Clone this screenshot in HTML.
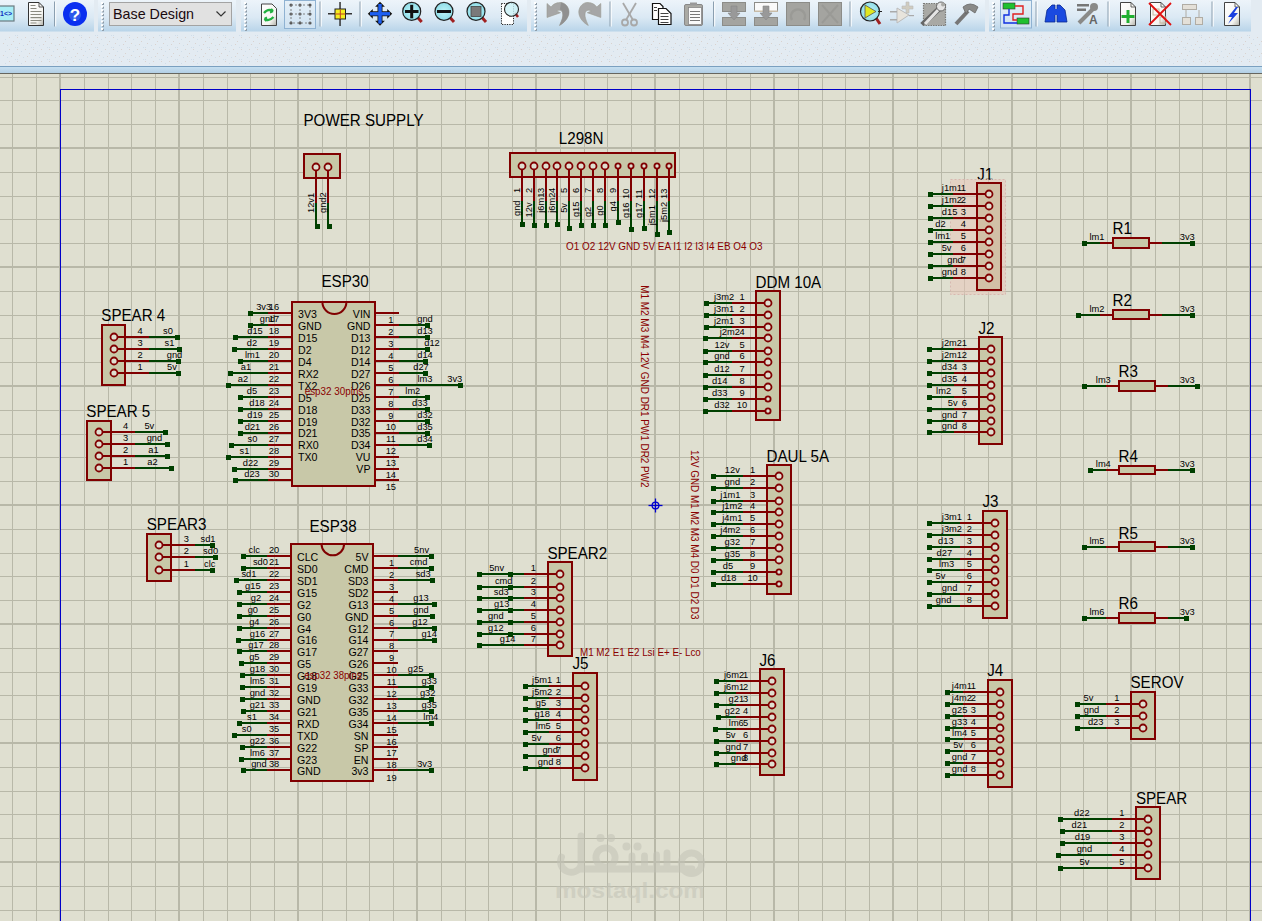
<!DOCTYPE html>
<html><head><meta charset="utf-8"><style>
html,body{margin:0;padding:0;width:1262px;height:921px;overflow:hidden;background:#dfdfd0;font-family:"Liberation Sans",sans-serif;}
#tb{position:absolute;left:0;top:0;width:1262px;height:74px;}
svg text{font-family:"Liberation Sans",sans-serif;}
</style></head><body>
<svg width="1262" height="921" style="position:absolute;left:0;top:0">
<rect x="0.00" y="74.00" width="1262.00" height="847.00" fill="#dfdfd0"/>
<rect x="0.00" y="77.00" width="1262.00" height="1.00" fill="#b8b8a8"/>
<rect x="0.00" y="100.00" width="1262.00" height="1.00" fill="#b8b8a8"/>
<rect x="0.00" y="124.00" width="1262.00" height="1.00" fill="#b8b8a8"/>
<rect x="0.00" y="147.00" width="1262.00" height="2.00" fill="#b8b8a8"/>
<rect x="0.00" y="172.00" width="1262.00" height="1.00" fill="#b8b8a8"/>
<rect x="0.00" y="196.00" width="1262.00" height="1.00" fill="#b8b8a8"/>
<rect x="0.00" y="219.00" width="1262.00" height="1.00" fill="#b8b8a8"/>
<rect x="0.00" y="243.00" width="1262.00" height="1.00" fill="#b8b8a8"/>
<rect x="0.00" y="266.00" width="1262.00" height="2.00" fill="#b8b8a8"/>
<rect x="0.00" y="291.00" width="1262.00" height="1.00" fill="#b8b8a8"/>
<rect x="0.00" y="315.00" width="1262.00" height="1.00" fill="#b8b8a8"/>
<rect x="0.00" y="338.00" width="1262.00" height="1.00" fill="#b8b8a8"/>
<rect x="0.00" y="362.00" width="1262.00" height="1.00" fill="#b8b8a8"/>
<rect x="0.00" y="385.00" width="1262.00" height="2.00" fill="#b8b8a8"/>
<rect x="0.00" y="410.00" width="1262.00" height="1.00" fill="#b8b8a8"/>
<rect x="0.00" y="434.00" width="1262.00" height="1.00" fill="#b8b8a8"/>
<rect x="0.00" y="457.00" width="1262.00" height="1.00" fill="#b8b8a8"/>
<rect x="0.00" y="481.00" width="1262.00" height="1.00" fill="#b8b8a8"/>
<rect x="0.00" y="504.00" width="1262.00" height="2.00" fill="#b8b8a8"/>
<rect x="0.00" y="529.00" width="1262.00" height="1.00" fill="#b8b8a8"/>
<rect x="0.00" y="553.00" width="1262.00" height="1.00" fill="#b8b8a8"/>
<rect x="0.00" y="576.00" width="1262.00" height="1.00" fill="#b8b8a8"/>
<rect x="0.00" y="600.00" width="1262.00" height="1.00" fill="#b8b8a8"/>
<rect x="0.00" y="623.00" width="1262.00" height="2.00" fill="#b8b8a8"/>
<rect x="0.00" y="648.00" width="1262.00" height="1.00" fill="#b8b8a8"/>
<rect x="0.00" y="672.00" width="1262.00" height="1.00" fill="#b8b8a8"/>
<rect x="0.00" y="695.00" width="1262.00" height="1.00" fill="#b8b8a8"/>
<rect x="0.00" y="719.00" width="1262.00" height="1.00" fill="#b8b8a8"/>
<rect x="0.00" y="742.00" width="1262.00" height="2.00" fill="#b8b8a8"/>
<rect x="0.00" y="767.00" width="1262.00" height="1.00" fill="#b8b8a8"/>
<rect x="0.00" y="791.00" width="1262.00" height="1.00" fill="#b8b8a8"/>
<rect x="0.00" y="814.00" width="1262.00" height="1.00" fill="#b8b8a8"/>
<rect x="0.00" y="838.00" width="1262.00" height="1.00" fill="#b8b8a8"/>
<rect x="0.00" y="861.00" width="1262.00" height="2.00" fill="#b8b8a8"/>
<rect x="0.00" y="886.00" width="1262.00" height="1.00" fill="#b8b8a8"/>
<rect x="0.00" y="910.00" width="1262.00" height="1.00" fill="#b8b8a8"/>
<rect x="12.00" y="74.00" width="1.00" height="847.00" fill="#b8b8a8"/>
<rect x="36.00" y="74.00" width="1.00" height="847.00" fill="#b8b8a8"/>
<rect x="59.00" y="74.00" width="2.00" height="847.00" fill="#b8b8a8"/>
<rect x="84.00" y="74.00" width="1.00" height="847.00" fill="#b8b8a8"/>
<rect x="108.00" y="74.00" width="1.00" height="847.00" fill="#b8b8a8"/>
<rect x="131.00" y="74.00" width="1.00" height="847.00" fill="#b8b8a8"/>
<rect x="155.00" y="74.00" width="1.00" height="847.00" fill="#b8b8a8"/>
<rect x="178.00" y="74.00" width="2.00" height="847.00" fill="#b8b8a8"/>
<rect x="203.00" y="74.00" width="1.00" height="847.00" fill="#b8b8a8"/>
<rect x="227.00" y="74.00" width="1.00" height="847.00" fill="#b8b8a8"/>
<rect x="250.00" y="74.00" width="1.00" height="847.00" fill="#b8b8a8"/>
<rect x="274.00" y="74.00" width="1.00" height="847.00" fill="#b8b8a8"/>
<rect x="297.00" y="74.00" width="2.00" height="847.00" fill="#b8b8a8"/>
<rect x="322.00" y="74.00" width="1.00" height="847.00" fill="#b8b8a8"/>
<rect x="346.00" y="74.00" width="1.00" height="847.00" fill="#b8b8a8"/>
<rect x="369.00" y="74.00" width="1.00" height="847.00" fill="#b8b8a8"/>
<rect x="393.00" y="74.00" width="1.00" height="847.00" fill="#b8b8a8"/>
<rect x="416.00" y="74.00" width="2.00" height="847.00" fill="#b8b8a8"/>
<rect x="441.00" y="74.00" width="1.00" height="847.00" fill="#b8b8a8"/>
<rect x="465.00" y="74.00" width="1.00" height="847.00" fill="#b8b8a8"/>
<rect x="488.00" y="74.00" width="1.00" height="847.00" fill="#b8b8a8"/>
<rect x="512.00" y="74.00" width="1.00" height="847.00" fill="#b8b8a8"/>
<rect x="535.00" y="74.00" width="2.00" height="847.00" fill="#b8b8a8"/>
<rect x="560.00" y="74.00" width="1.00" height="847.00" fill="#b8b8a8"/>
<rect x="584.00" y="74.00" width="1.00" height="847.00" fill="#b8b8a8"/>
<rect x="607.00" y="74.00" width="1.00" height="847.00" fill="#b8b8a8"/>
<rect x="631.00" y="74.00" width="1.00" height="847.00" fill="#b8b8a8"/>
<rect x="654.00" y="74.00" width="2.00" height="847.00" fill="#b8b8a8"/>
<rect x="679.00" y="74.00" width="1.00" height="847.00" fill="#b8b8a8"/>
<rect x="703.00" y="74.00" width="1.00" height="847.00" fill="#b8b8a8"/>
<rect x="726.00" y="74.00" width="1.00" height="847.00" fill="#b8b8a8"/>
<rect x="750.00" y="74.00" width="1.00" height="847.00" fill="#b8b8a8"/>
<rect x="773.00" y="74.00" width="2.00" height="847.00" fill="#b8b8a8"/>
<rect x="798.00" y="74.00" width="1.00" height="847.00" fill="#b8b8a8"/>
<rect x="822.00" y="74.00" width="1.00" height="847.00" fill="#b8b8a8"/>
<rect x="845.00" y="74.00" width="1.00" height="847.00" fill="#b8b8a8"/>
<rect x="869.00" y="74.00" width="1.00" height="847.00" fill="#b8b8a8"/>
<rect x="892.00" y="74.00" width="2.00" height="847.00" fill="#b8b8a8"/>
<rect x="917.00" y="74.00" width="1.00" height="847.00" fill="#b8b8a8"/>
<rect x="941.00" y="74.00" width="1.00" height="847.00" fill="#b8b8a8"/>
<rect x="964.00" y="74.00" width="1.00" height="847.00" fill="#b8b8a8"/>
<rect x="988.00" y="74.00" width="1.00" height="847.00" fill="#b8b8a8"/>
<rect x="1011.00" y="74.00" width="2.00" height="847.00" fill="#b8b8a8"/>
<rect x="1036.00" y="74.00" width="1.00" height="847.00" fill="#b8b8a8"/>
<rect x="1060.00" y="74.00" width="1.00" height="847.00" fill="#b8b8a8"/>
<rect x="1083.00" y="74.00" width="1.00" height="847.00" fill="#b8b8a8"/>
<rect x="1107.00" y="74.00" width="1.00" height="847.00" fill="#b8b8a8"/>
<rect x="1130.00" y="74.00" width="2.00" height="847.00" fill="#b8b8a8"/>
<rect x="1155.00" y="74.00" width="1.00" height="847.00" fill="#b8b8a8"/>
<rect x="1179.00" y="74.00" width="1.00" height="847.00" fill="#b8b8a8"/>
<rect x="1202.00" y="74.00" width="1.00" height="847.00" fill="#b8b8a8"/>
<rect x="1226.00" y="74.00" width="1.00" height="847.00" fill="#b8b8a8"/>
<rect x="1249.00" y="74.00" width="2.00" height="847.00" fill="#b8b8a8"/>
<g opacity="0.55"><g fill="none" stroke="#c2c2b6" stroke-width="6.8" stroke-linecap="round"><path d="M581,836 V866 A10.5,10.5 0 1 1 561.5,857"/><circle cx="605.5" cy="857.5" r="9.6"/><path d="M581,869 H692"/><path d="M632,868 V856 M644.5,868 V856 M656.5,868 V855 M667,868 V853"/><circle cx="691.5" cy="863.3" r="10.3"/></g>
<g fill="#c2c2b6"><circle cx="600.5" cy="838" r="4"/><circle cx="611" cy="838" r="4"/><circle cx="626.5" cy="846.5" r="4"/><circle cx="637.5" cy="846.5" r="4"/></g>
<text x="555" y="897.5" font-size="22" font-weight="bold" fill="#c2c2b6" text-anchor="start" textLength="150" lengthAdjust="spacingAndGlyphs">mostaql.com</text></g>
<rect x="60.00" y="89.00" width="1191.00" height="1.00" fill="#0000c8"/>
<rect x="60.00" y="89.00" width="1.00" height="900.00" fill="#0000c8"/>
<rect x="1250.00" y="89.00" width="1.00" height="900.00" fill="#0000c8"/>
<text transform="translate(303.50,126.30) scale(0.96,1)" font-size="15.8" fill="#000000" text-anchor="start">POWER SUPPLY</text>
<rect x="304" y="154" width="36" height="24" fill="#c8c8a8" stroke="#800000" stroke-width="2"/>
<rect x="315.00" y="166.00" width="2.00" height="37.00" fill="#800000"/>
<rect x="315.00" y="203.00" width="2.00" height="22.00" fill="#004000"/>
<rect x="315.00" y="224.00" width="5.00" height="5.00" fill="#004000"/>
<circle cx="316" cy="167" r="3.5" fill="#dfdfd0" stroke="#800000" stroke-width="1.8"/>
<text transform="translate(313.50,213.00) rotate(-90) scale(0.95,1)" font-size="9.8" fill="#000000" text-anchor="start">12v1</text>
<rect x="327.00" y="166.00" width="2.00" height="37.00" fill="#800000"/>
<rect x="327.00" y="203.00" width="2.00" height="22.00" fill="#004000"/>
<rect x="327.00" y="224.00" width="5.00" height="5.00" fill="#004000"/>
<circle cx="328" cy="167" r="3.5" fill="#dfdfd0" stroke="#800000" stroke-width="1.8"/>
<text transform="translate(325.50,213.00) rotate(-90) scale(0.95,1)" font-size="9.8" fill="#000000" text-anchor="start">gnd2</text>
<text transform="translate(558.80,144.10) scale(0.96,1)" font-size="15.8" fill="#000000" text-anchor="start">L298N</text>
<rect x="510" y="153" width="165" height="24" fill="#c8c8a8" stroke="#800000" stroke-width="2"/>
<rect x="521.00" y="166.00" width="2.00" height="35.00" fill="#800000"/>
<rect x="521.00" y="201.00" width="2.00" height="23.00" fill="#004000"/>
<rect x="520.00" y="222.00" width="5.00" height="5.00" fill="#004000"/>
<circle cx="522" cy="166" r="3.5" fill="#dfdfd0" stroke="#800000" stroke-width="1.8"/>
<text transform="translate(520.00,193.00) rotate(-90) scale(0.95,1)" font-size="9.8" fill="#000000" text-anchor="start">1</text>
<text transform="translate(520.00,216.00) rotate(-90) scale(0.95,1)" font-size="9.8" fill="#000000" text-anchor="start">gnd</text>
<rect x="533.00" y="166.00" width="2.00" height="35.00" fill="#800000"/>
<rect x="533.00" y="201.00" width="2.00" height="24.00" fill="#004000"/>
<rect x="532.00" y="223.00" width="5.00" height="5.00" fill="#004000"/>
<circle cx="534" cy="166" r="3.5" fill="#dfdfd0" stroke="#800000" stroke-width="1.8"/>
<text transform="translate(532.00,193.00) rotate(-90) scale(0.95,1)" font-size="9.8" fill="#000000" text-anchor="start">2</text>
<text transform="translate(532.00,217.40) rotate(-90) scale(0.95,1)" font-size="9.8" fill="#000000" text-anchor="start">12v</text>
<rect x="545.00" y="166.00" width="2.00" height="35.00" fill="#800000"/>
<rect x="545.00" y="201.00" width="2.00" height="24.00" fill="#004000"/>
<rect x="544.00" y="223.00" width="5.00" height="5.00" fill="#004000"/>
<circle cx="546" cy="166" r="3.5" fill="#dfdfd0" stroke="#800000" stroke-width="1.8"/>
<text transform="translate(544.00,193.00) rotate(-90) scale(0.95,1)" font-size="9.8" fill="#000000" text-anchor="start">3</text>
<text transform="translate(544.00,212.80) rotate(-90) scale(0.95,1)" font-size="9.8" fill="#000000" text-anchor="start">j6m1</text>
<rect x="556.00" y="166.00" width="2.00" height="35.00" fill="#800000"/>
<rect x="556.00" y="201.00" width="2.00" height="23.00" fill="#004000"/>
<rect x="555.00" y="222.00" width="5.00" height="5.00" fill="#004000"/>
<circle cx="557" cy="166" r="3.5" fill="#dfdfd0" stroke="#800000" stroke-width="1.8"/>
<text transform="translate(555.00,193.00) rotate(-90) scale(0.95,1)" font-size="9.8" fill="#000000" text-anchor="start">4</text>
<text transform="translate(555.00,212.80) rotate(-90) scale(0.95,1)" font-size="9.8" fill="#000000" text-anchor="start">j6m2</text>
<rect x="568.00" y="166.00" width="2.00" height="35.00" fill="#800000"/>
<rect x="568.00" y="201.00" width="2.00" height="27.00" fill="#004000"/>
<rect x="567.00" y="226.00" width="5.00" height="5.00" fill="#004000"/>
<circle cx="569" cy="166" r="3.5" fill="#dfdfd0" stroke="#800000" stroke-width="1.8"/>
<text transform="translate(567.00,193.00) rotate(-90) scale(0.95,1)" font-size="9.8" fill="#000000" text-anchor="start">5</text>
<text transform="translate(567.00,212.80) rotate(-90) scale(0.95,1)" font-size="9.8" fill="#000000" text-anchor="start">5v</text>
<rect x="580.00" y="166.00" width="2.00" height="35.00" fill="#800000"/>
<rect x="580.00" y="201.00" width="2.00" height="24.00" fill="#004000"/>
<rect x="579.00" y="223.00" width="5.00" height="5.00" fill="#004000"/>
<circle cx="581" cy="166" r="3.5" fill="#dfdfd0" stroke="#800000" stroke-width="1.8"/>
<text transform="translate(579.00,193.00) rotate(-90) scale(0.95,1)" font-size="9.8" fill="#000000" text-anchor="start">6</text>
<text transform="translate(579.00,217.10) rotate(-90) scale(0.95,1)" font-size="9.8" fill="#000000" text-anchor="start">g15</text>
<rect x="592.00" y="166.00" width="2.00" height="35.00" fill="#800000"/>
<rect x="592.00" y="201.00" width="2.00" height="24.00" fill="#004000"/>
<rect x="591.00" y="223.00" width="5.00" height="5.00" fill="#004000"/>
<circle cx="593" cy="166" r="3.5" fill="#dfdfd0" stroke="#800000" stroke-width="1.8"/>
<text transform="translate(591.00,193.00) rotate(-90) scale(0.95,1)" font-size="9.8" fill="#000000" text-anchor="start">7</text>
<text transform="translate(591.00,217.10) rotate(-90) scale(0.95,1)" font-size="9.8" fill="#000000" text-anchor="start">g2</text>
<rect x="604.00" y="166.00" width="2.00" height="35.00" fill="#800000"/>
<rect x="604.00" y="201.00" width="2.00" height="24.00" fill="#004000"/>
<rect x="603.00" y="223.00" width="5.00" height="5.00" fill="#004000"/>
<circle cx="605" cy="166" r="3.5" fill="#dfdfd0" stroke="#800000" stroke-width="1.8"/>
<text transform="translate(603.00,193.00) rotate(-90) scale(0.95,1)" font-size="9.8" fill="#000000" text-anchor="start">8</text>
<text transform="translate(603.00,215.70) rotate(-90) scale(0.95,1)" font-size="9.8" fill="#000000" text-anchor="start">g0</text>
<rect x="617.00" y="166.00" width="2.00" height="35.00" fill="#800000"/>
<rect x="617.00" y="201.00" width="2.00" height="21.00" fill="#004000"/>
<rect x="616.00" y="220.00" width="5.00" height="5.00" fill="#004000"/>
<circle cx="618" cy="166" r="2.6" fill="#dfdfd0" stroke="#800000" stroke-width="1.8"/>
<text transform="translate(616.10,193.00) rotate(-90) scale(0.95,1)" font-size="9.8" fill="#000000" text-anchor="start">9</text>
<text transform="translate(616.10,211.40) rotate(-90) scale(0.95,1)" font-size="9.8" fill="#000000" text-anchor="start">g4</text>
<rect x="630.00" y="166.00" width="2.00" height="35.00" fill="#800000"/>
<rect x="630.00" y="201.00" width="2.00" height="28.00" fill="#004000"/>
<rect x="629.00" y="227.00" width="5.00" height="5.00" fill="#004000"/>
<circle cx="631" cy="166" r="2.6" fill="#dfdfd0" stroke="#800000" stroke-width="1.8"/>
<text transform="translate(629.00,199.00) rotate(-90) scale(0.95,1)" font-size="9.8" fill="#000000" text-anchor="start">10</text>
<text transform="translate(629.00,218.00) rotate(-90) scale(0.95,1)" font-size="9.8" fill="#000000" text-anchor="start">g16</text>
<rect x="643.00" y="166.00" width="2.00" height="35.00" fill="#800000"/>
<rect x="643.00" y="201.00" width="2.00" height="27.00" fill="#004000"/>
<rect x="642.00" y="226.00" width="5.00" height="5.00" fill="#004000"/>
<circle cx="644" cy="166" r="2.6" fill="#dfdfd0" stroke="#800000" stroke-width="1.8"/>
<text transform="translate(641.90,199.00) rotate(-90) scale(0.95,1)" font-size="9.8" fill="#000000" text-anchor="start">11</text>
<text transform="translate(641.90,218.00) rotate(-90) scale(0.95,1)" font-size="9.8" fill="#000000" text-anchor="start">g17</text>
<rect x="656.00" y="166.00" width="2.00" height="35.00" fill="#800000"/>
<rect x="656.00" y="201.00" width="2.00" height="33.00" fill="#004000"/>
<rect x="655.00" y="232.00" width="5.00" height="5.00" fill="#004000"/>
<circle cx="657" cy="166" r="2.6" fill="#dfdfd0" stroke="#800000" stroke-width="1.8"/>
<text transform="translate(655.20,199.00) rotate(-90) scale(0.95,1)" font-size="9.8" fill="#000000" text-anchor="start">12</text>
<text transform="translate(655.20,225.30) rotate(-90) scale(0.95,1)" font-size="9.8" fill="#000000" text-anchor="start">j5m1</text>
<rect x="668.00" y="166.00" width="2.00" height="35.00" fill="#800000"/>
<rect x="668.00" y="201.00" width="2.00" height="31.00" fill="#004000"/>
<rect x="667.00" y="230.00" width="5.00" height="5.00" fill="#004000"/>
<circle cx="669" cy="166" r="2.6" fill="#dfdfd0" stroke="#800000" stroke-width="1.8"/>
<text transform="translate(667.40,199.00) rotate(-90) scale(0.95,1)" font-size="9.8" fill="#000000" text-anchor="start">13</text>
<text transform="translate(667.40,222.10) rotate(-90) scale(0.95,1)" font-size="9.8" fill="#000000" text-anchor="start">j5m2</text>
<text transform="translate(566.00,249.80)" font-size="10" fill="#8a0000" text-anchor="start" textLength="196.4" lengthAdjust="spacingAndGlyphs">O1 O2 12V GND 5V EA I1 I2 I3 I4 EB O4 O3</text>
<text transform="translate(640.50,285.30) rotate(90)" font-size="10" fill="#8a0000" text-anchor="start" textLength="202.3" lengthAdjust="spacingAndGlyphs">M1 M2 M3 M4 12V GND DR1 PW1 DR2 PW2</text>
<text transform="translate(690.50,449.90) rotate(90)" font-size="10" fill="#8a0000" text-anchor="start" textLength="169.6" lengthAdjust="spacingAndGlyphs">12V GND M1 M2 M3 M4 D0 D1 D2 D3</text>
<text transform="translate(580.00,655.50)" font-size="10" fill="#8a0000" text-anchor="start" textLength="120.8" lengthAdjust="spacingAndGlyphs">M1 M2 E1 E2 Lsi E+ E- Lco</text>
<g stroke="#0000d0" stroke-width="1.3" fill="none"><circle cx="655.5" cy="505.5" r="3.4"/><line x1="648.5" y1="505.5" x2="662.5" y2="505.5"/><line x1="655.5" y1="498.5" x2="655.5" y2="512.5"/></g>
<text transform="translate(321.50,287.30) scale(0.96,1)" font-size="15.8" fill="#000000" text-anchor="start">ESP30</text>
<rect x="292" y="302" width="83" height="184" fill="#c8c8a8" stroke="#800000" stroke-width="2"/>
<path d="M322.40,302.00 A12,12 0 0 0 346.40,302.00" fill="none" stroke="#800000" stroke-width="2"/>
<rect x="268.00" y="312.00" width="23.00" height="2.00" fill="#800000"/>
<rect x="250.00" y="312.00" width="18.00" height="2.00" fill="#004000"/>
<rect x="248.00" y="311.00" width="5.00" height="5.00" fill="#004000"/>
<text transform="translate(274.00,310.00) scale(0.95,1)" font-size="9.8" fill="#000000" text-anchor="middle">16</text>
<text transform="translate(263.70,310.00) scale(0.95,1)" font-size="9.8" fill="#000000" text-anchor="middle">3v3</text>
<text transform="translate(298.00,317.80)" font-size="10.6" fill="#000000" text-anchor="start">3V3</text>
<rect x="268.00" y="324.00" width="23.00" height="2.00" fill="#800000"/>
<rect x="250.00" y="324.00" width="18.00" height="2.00" fill="#004000"/>
<rect x="248.00" y="323.00" width="5.00" height="5.00" fill="#004000"/>
<text transform="translate(274.00,322.00) scale(0.95,1)" font-size="9.8" fill="#000000" text-anchor="middle">17</text>
<text transform="translate(267.50,322.00) scale(0.95,1)" font-size="9.8" fill="#000000" text-anchor="middle">gnd</text>
<text transform="translate(298.00,329.80)" font-size="10.6" fill="#000000" text-anchor="start">GND</text>
<rect x="268.00" y="336.00" width="23.00" height="2.00" fill="#800000"/>
<rect x="235.00" y="336.00" width="33.00" height="2.00" fill="#004000"/>
<rect x="233.00" y="335.00" width="5.00" height="5.00" fill="#004000"/>
<text transform="translate(274.00,334.00) scale(0.95,1)" font-size="9.8" fill="#000000" text-anchor="middle">18</text>
<text transform="translate(255.00,334.00) scale(0.95,1)" font-size="9.8" fill="#000000" text-anchor="middle">d15</text>
<text transform="translate(298.00,341.80)" font-size="10.6" fill="#000000" text-anchor="start">D15</text>
<rect x="268.00" y="348.00" width="23.00" height="2.00" fill="#800000"/>
<rect x="234.00" y="348.00" width="34.00" height="2.00" fill="#004000"/>
<rect x="232.00" y="347.00" width="5.00" height="5.00" fill="#004000"/>
<text transform="translate(274.00,346.00) scale(0.95,1)" font-size="9.8" fill="#000000" text-anchor="middle">19</text>
<text transform="translate(252.00,346.00) scale(0.95,1)" font-size="9.8" fill="#000000" text-anchor="middle">d2</text>
<text transform="translate(298.00,353.80)" font-size="10.6" fill="#000000" text-anchor="start">D2</text>
<rect x="268.00" y="360.00" width="23.00" height="2.00" fill="#800000"/>
<rect x="240.00" y="360.00" width="28.00" height="2.00" fill="#004000"/>
<rect x="238.00" y="359.00" width="5.00" height="5.00" fill="#004000"/>
<text transform="translate(274.00,358.00) scale(0.95,1)" font-size="9.8" fill="#000000" text-anchor="middle">20</text>
<text transform="translate(252.50,358.00) scale(0.95,1)" font-size="9.8" fill="#000000" text-anchor="middle">lm1</text>
<text transform="translate(298.00,365.80)" font-size="10.6" fill="#000000" text-anchor="start">D4</text>
<rect x="268.00" y="372.00" width="23.00" height="2.00" fill="#800000"/>
<rect x="230.00" y="372.00" width="38.00" height="2.00" fill="#004000"/>
<rect x="228.00" y="371.00" width="5.00" height="5.00" fill="#004000"/>
<text transform="translate(274.00,370.00) scale(0.95,1)" font-size="9.8" fill="#000000" text-anchor="middle">21</text>
<text transform="translate(246.00,370.00) scale(0.95,1)" font-size="9.8" fill="#000000" text-anchor="middle">a1</text>
<text transform="translate(298.00,377.80)" font-size="10.6" fill="#000000" text-anchor="start">RX2</text>
<rect x="268.00" y="384.00" width="23.00" height="2.00" fill="#800000"/>
<rect x="228.00" y="384.00" width="40.00" height="2.00" fill="#004000"/>
<rect x="226.00" y="383.00" width="5.00" height="5.00" fill="#004000"/>
<text transform="translate(274.00,382.00) scale(0.95,1)" font-size="9.8" fill="#000000" text-anchor="middle">22</text>
<text transform="translate(243.00,382.00) scale(0.95,1)" font-size="9.8" fill="#000000" text-anchor="middle">a2</text>
<text transform="translate(298.00,389.80)" font-size="10.6" fill="#000000" text-anchor="start">TX2</text>
<rect x="268.00" y="396.00" width="23.00" height="2.00" fill="#800000"/>
<rect x="240.00" y="396.00" width="28.00" height="2.00" fill="#004000"/>
<rect x="238.00" y="395.00" width="5.00" height="5.00" fill="#004000"/>
<text transform="translate(274.00,394.00) scale(0.95,1)" font-size="9.8" fill="#000000" text-anchor="middle">23</text>
<text transform="translate(252.00,394.00) scale(0.95,1)" font-size="9.8" fill="#000000" text-anchor="middle">d5</text>
<text transform="translate(298.00,401.80)" font-size="10.6" fill="#000000" text-anchor="start">D5</text>
<rect x="268.00" y="408.00" width="23.00" height="2.00" fill="#800000"/>
<rect x="240.00" y="408.00" width="28.00" height="2.00" fill="#004000"/>
<rect x="238.00" y="407.00" width="5.00" height="5.00" fill="#004000"/>
<text transform="translate(274.00,406.00) scale(0.95,1)" font-size="9.8" fill="#000000" text-anchor="middle">24</text>
<text transform="translate(257.00,406.00) scale(0.95,1)" font-size="9.8" fill="#000000" text-anchor="middle">d18</text>
<text transform="translate(298.00,413.80)" font-size="10.6" fill="#000000" text-anchor="start">D18</text>
<rect x="268.00" y="420.00" width="23.00" height="2.00" fill="#800000"/>
<rect x="240.00" y="420.00" width="28.00" height="2.00" fill="#004000"/>
<rect x="238.00" y="419.00" width="5.00" height="5.00" fill="#004000"/>
<text transform="translate(274.00,418.00) scale(0.95,1)" font-size="9.8" fill="#000000" text-anchor="middle">25</text>
<text transform="translate(255.00,418.00) scale(0.95,1)" font-size="9.8" fill="#000000" text-anchor="middle">d19</text>
<text transform="translate(298.00,425.80)" font-size="10.6" fill="#000000" text-anchor="start">D19</text>
<rect x="268.00" y="432.00" width="23.00" height="2.00" fill="#800000"/>
<rect x="240.00" y="432.00" width="28.00" height="2.00" fill="#004000"/>
<rect x="238.00" y="431.00" width="5.00" height="5.00" fill="#004000"/>
<text transform="translate(274.00,429.50) scale(0.95,1)" font-size="9.8" fill="#000000" text-anchor="middle">26</text>
<text transform="translate(252.50,429.50) scale(0.95,1)" font-size="9.8" fill="#000000" text-anchor="middle">d21</text>
<text transform="translate(298.00,437.30)" font-size="10.6" fill="#000000" text-anchor="start">D21</text>
<rect x="268.00" y="444.00" width="23.00" height="2.00" fill="#800000"/>
<rect x="231.00" y="444.00" width="37.00" height="2.00" fill="#004000"/>
<rect x="229.00" y="443.00" width="5.00" height="5.00" fill="#004000"/>
<text transform="translate(274.00,441.50) scale(0.95,1)" font-size="9.8" fill="#000000" text-anchor="middle">27</text>
<text transform="translate(252.50,441.50) scale(0.95,1)" font-size="9.8" fill="#000000" text-anchor="middle">s0</text>
<text transform="translate(298.00,449.30)" font-size="10.6" fill="#000000" text-anchor="start">RX0</text>
<rect x="268.00" y="456.00" width="23.00" height="2.00" fill="#800000"/>
<rect x="228.00" y="456.00" width="40.00" height="2.00" fill="#004000"/>
<rect x="226.00" y="455.00" width="5.00" height="5.00" fill="#004000"/>
<text transform="translate(274.00,453.50) scale(0.95,1)" font-size="9.8" fill="#000000" text-anchor="middle">28</text>
<text transform="translate(244.50,453.50) scale(0.95,1)" font-size="9.8" fill="#000000" text-anchor="middle">s1</text>
<text transform="translate(298.00,461.30)" font-size="10.6" fill="#000000" text-anchor="start">TX0</text>
<rect x="268.00" y="468.00" width="23.00" height="2.00" fill="#800000"/>
<rect x="234.00" y="468.00" width="34.00" height="2.00" fill="#004000"/>
<rect x="232.00" y="467.00" width="5.00" height="5.00" fill="#004000"/>
<text transform="translate(274.00,465.50) scale(0.95,1)" font-size="9.8" fill="#000000" text-anchor="middle">29</text>
<text transform="translate(250.50,465.50) scale(0.95,1)" font-size="9.8" fill="#000000" text-anchor="middle">d22</text>
<rect x="268.00" y="479.00" width="23.00" height="2.00" fill="#800000"/>
<rect x="235.00" y="479.00" width="33.00" height="2.00" fill="#004000"/>
<rect x="233.00" y="478.00" width="5.00" height="5.00" fill="#004000"/>
<text transform="translate(274.00,477.00) scale(0.95,1)" font-size="9.8" fill="#000000" text-anchor="middle">30</text>
<text transform="translate(252.00,477.00) scale(0.95,1)" font-size="9.8" fill="#000000" text-anchor="middle">d23</text>
<rect x="376.00" y="312.00" width="23.00" height="2.00" fill="#800000"/>
<text transform="translate(370.50,317.80)" font-size="10.6" fill="#000000" text-anchor="end">VIN</text>
<rect x="376.00" y="324.00" width="23.00" height="2.00" fill="#800000"/>
<rect x="399.00" y="324.00" width="28.00" height="2.00" fill="#004000"/>
<rect x="425.00" y="323.00" width="5.00" height="5.00" fill="#004000"/>
<text transform="translate(425.00,322.00) scale(0.95,1)" font-size="9.8" fill="#000000" text-anchor="middle">gnd</text>
<text transform="translate(370.50,329.80)" font-size="10.6" fill="#000000" text-anchor="end">GND</text>
<rect x="376.00" y="336.00" width="23.00" height="2.00" fill="#800000"/>
<rect x="399.00" y="336.00" width="28.00" height="2.00" fill="#004000"/>
<rect x="425.00" y="335.00" width="5.00" height="5.00" fill="#004000"/>
<text transform="translate(425.00,334.00) scale(0.95,1)" font-size="9.8" fill="#000000" text-anchor="middle">d13</text>
<text transform="translate(370.50,341.80)" font-size="10.6" fill="#000000" text-anchor="end">D13</text>
<rect x="376.00" y="348.00" width="23.00" height="2.00" fill="#800000"/>
<rect x="399.00" y="348.00" width="28.00" height="2.00" fill="#004000"/>
<rect x="425.00" y="347.00" width="5.00" height="5.00" fill="#004000"/>
<text transform="translate(432.00,346.00) scale(0.95,1)" font-size="9.8" fill="#000000" text-anchor="middle">d12</text>
<text transform="translate(370.50,353.80)" font-size="10.6" fill="#000000" text-anchor="end">D12</text>
<rect x="376.00" y="360.00" width="23.00" height="2.00" fill="#800000"/>
<rect x="399.00" y="360.00" width="26.00" height="2.00" fill="#004000"/>
<rect x="423.00" y="359.00" width="5.00" height="5.00" fill="#004000"/>
<text transform="translate(425.00,358.00) scale(0.95,1)" font-size="9.8" fill="#000000" text-anchor="middle">d14</text>
<text transform="translate(370.50,365.80)" font-size="10.6" fill="#000000" text-anchor="end">D14</text>
<rect x="376.00" y="372.00" width="23.00" height="2.00" fill="#800000"/>
<rect x="399.00" y="372.00" width="26.00" height="2.00" fill="#004000"/>
<rect x="423.00" y="371.00" width="5.00" height="5.00" fill="#004000"/>
<text transform="translate(421.00,370.00) scale(0.95,1)" font-size="9.8" fill="#000000" text-anchor="middle">d27</text>
<text transform="translate(370.50,377.80)" font-size="10.6" fill="#000000" text-anchor="end">D27</text>
<rect x="376.00" y="384.00" width="23.00" height="2.00" fill="#800000"/>
<rect x="399.00" y="384.00" width="61.00" height="2.00" fill="#004000"/>
<rect x="458.00" y="383.00" width="5.00" height="5.00" fill="#004000"/>
<text transform="translate(425.00,382.00) scale(0.95,1)" font-size="9.8" fill="#000000" text-anchor="middle">lm3</text>
<text transform="translate(370.50,389.80)" font-size="10.6" fill="#000000" text-anchor="end">D26</text>
<rect x="376.00" y="396.00" width="23.00" height="2.00" fill="#800000"/>
<rect x="399.00" y="396.00" width="28.00" height="2.00" fill="#004000"/>
<rect x="425.00" y="395.00" width="5.00" height="5.00" fill="#004000"/>
<text transform="translate(412.80,394.00) scale(0.95,1)" font-size="9.8" fill="#000000" text-anchor="middle">lm2</text>
<text transform="translate(370.50,401.80)" font-size="10.6" fill="#000000" text-anchor="end">D25</text>
<rect x="376.00" y="408.00" width="23.00" height="2.00" fill="#800000"/>
<rect x="399.00" y="408.00" width="28.00" height="2.00" fill="#004000"/>
<rect x="425.00" y="407.00" width="5.00" height="5.00" fill="#004000"/>
<text transform="translate(419.80,406.00) scale(0.95,1)" font-size="9.8" fill="#000000" text-anchor="middle">d33</text>
<text transform="translate(370.50,413.80)" font-size="10.6" fill="#000000" text-anchor="end">D33</text>
<rect x="376.00" y="420.00" width="23.00" height="2.00" fill="#800000"/>
<rect x="399.00" y="420.00" width="28.00" height="2.00" fill="#004000"/>
<rect x="425.00" y="419.00" width="5.00" height="5.00" fill="#004000"/>
<text transform="translate(425.00,418.00) scale(0.95,1)" font-size="9.8" fill="#000000" text-anchor="middle">d32</text>
<text transform="translate(370.50,425.80)" font-size="10.6" fill="#000000" text-anchor="end">D32</text>
<rect x="376.00" y="432.00" width="23.00" height="2.00" fill="#800000"/>
<rect x="399.00" y="432.00" width="28.00" height="2.00" fill="#004000"/>
<rect x="425.00" y="431.00" width="5.00" height="5.00" fill="#004000"/>
<text transform="translate(425.00,429.50) scale(0.95,1)" font-size="9.8" fill="#000000" text-anchor="middle">d35</text>
<text transform="translate(370.50,437.30)" font-size="10.6" fill="#000000" text-anchor="end">D35</text>
<rect x="376.00" y="444.00" width="23.00" height="2.00" fill="#800000"/>
<rect x="399.00" y="444.00" width="30.00" height="2.00" fill="#004000"/>
<rect x="427.00" y="443.00" width="5.00" height="5.00" fill="#004000"/>
<text transform="translate(425.00,441.50) scale(0.95,1)" font-size="9.8" fill="#000000" text-anchor="middle">d34</text>
<text transform="translate(370.50,449.30)" font-size="10.6" fill="#000000" text-anchor="end">D34</text>
<rect x="376.00" y="456.00" width="23.00" height="2.00" fill="#800000"/>
<text transform="translate(370.50,461.30)" font-size="10.6" fill="#000000" text-anchor="end">VU</text>
<rect x="376.00" y="468.00" width="23.00" height="2.00" fill="#800000"/>
<text transform="translate(370.50,473.30)" font-size="10.6" fill="#000000" text-anchor="end">VP</text>
<rect x="376.00" y="479.00" width="23.00" height="2.00" fill="#800000"/>
<text transform="translate(390.80,322.50) scale(0.95,1)" font-size="9.8" fill="#000000" text-anchor="middle">1</text>
<text transform="translate(390.80,334.50) scale(0.95,1)" font-size="9.8" fill="#000000" text-anchor="middle">2</text>
<text transform="translate(390.80,346.50) scale(0.95,1)" font-size="9.8" fill="#000000" text-anchor="middle">3</text>
<text transform="translate(390.80,358.50) scale(0.95,1)" font-size="9.8" fill="#000000" text-anchor="middle">4</text>
<text transform="translate(390.80,370.50) scale(0.95,1)" font-size="9.8" fill="#000000" text-anchor="middle">5</text>
<text transform="translate(390.80,382.50) scale(0.95,1)" font-size="9.8" fill="#000000" text-anchor="middle">6</text>
<text transform="translate(390.80,394.50) scale(0.95,1)" font-size="9.8" fill="#000000" text-anchor="middle">7</text>
<text transform="translate(390.80,406.50) scale(0.95,1)" font-size="9.8" fill="#000000" text-anchor="middle">8</text>
<text transform="translate(390.80,418.50) scale(0.95,1)" font-size="9.8" fill="#000000" text-anchor="middle">9</text>
<text transform="translate(390.80,430.00) scale(0.95,1)" font-size="9.8" fill="#000000" text-anchor="middle">10</text>
<text transform="translate(390.80,442.00) scale(0.95,1)" font-size="9.8" fill="#000000" text-anchor="middle">11</text>
<text transform="translate(390.80,454.00) scale(0.95,1)" font-size="9.8" fill="#000000" text-anchor="middle">12</text>
<text transform="translate(390.80,466.00) scale(0.95,1)" font-size="9.8" fill="#000000" text-anchor="middle">13</text>
<text transform="translate(390.80,477.50) scale(0.95,1)" font-size="9.8" fill="#000000" text-anchor="middle">14</text>
<text transform="translate(390.80,489.50) scale(0.95,1)" font-size="9.8" fill="#000000" text-anchor="middle">15</text>
<text transform="translate(334.00,395.00)" font-size="10" fill="#8a0000" text-anchor="middle" textLength="58.6" lengthAdjust="spacingAndGlyphs">esp32 30pins</text>
<text transform="translate(454.80,382.00) scale(0.95,1)" font-size="9.8" fill="#000000" text-anchor="middle">3v3</text>
<text transform="translate(309.50,532.30) scale(0.96,1)" font-size="15.8" fill="#000000" text-anchor="start">ESP38</text>
<rect x="291" y="544" width="82" height="237" fill="#c8c8a8" stroke="#800000" stroke-width="2"/>
<path d="M321.50,544.00 A11.3,11.3 0 0 0 344.10,544.00" fill="none" stroke="#800000" stroke-width="2"/>
<rect x="267.00" y="555.00" width="23.00" height="2.00" fill="#800000"/>
<rect x="243.00" y="555.00" width="24.00" height="2.00" fill="#004000"/>
<rect x="241.00" y="554.00" width="5.00" height="5.00" fill="#004000"/>
<text transform="translate(274.10,553.20) scale(0.95,1)" font-size="9.8" fill="#000000" text-anchor="middle">20</text>
<text transform="translate(254.30,553.20) scale(0.95,1)" font-size="9.8" fill="#000000" text-anchor="middle">clc</text>
<text transform="translate(297.00,561.00)" font-size="10.6" fill="#000000" text-anchor="start">CLC</text>
<rect x="267.00" y="567.00" width="23.00" height="2.00" fill="#800000"/>
<rect x="243.00" y="567.00" width="24.00" height="2.00" fill="#004000"/>
<rect x="241.00" y="566.00" width="5.00" height="5.00" fill="#004000"/>
<text transform="translate(274.10,565.40) scale(0.95,1)" font-size="9.8" fill="#000000" text-anchor="middle">21</text>
<text transform="translate(260.40,565.40) scale(0.95,1)" font-size="9.8" fill="#000000" text-anchor="middle">sd0</text>
<text transform="translate(297.00,573.20)" font-size="10.6" fill="#000000" text-anchor="start">SD0</text>
<rect x="267.00" y="579.00" width="23.00" height="2.00" fill="#800000"/>
<rect x="236.00" y="579.00" width="31.00" height="2.00" fill="#004000"/>
<rect x="234.00" y="578.00" width="5.00" height="5.00" fill="#004000"/>
<text transform="translate(274.10,577.30) scale(0.95,1)" font-size="9.8" fill="#000000" text-anchor="middle">22</text>
<text transform="translate(248.90,577.30) scale(0.95,1)" font-size="9.8" fill="#000000" text-anchor="middle">sd1</text>
<text transform="translate(297.00,585.10)" font-size="10.6" fill="#000000" text-anchor="start">SD1</text>
<rect x="267.00" y="591.00" width="23.00" height="2.00" fill="#800000"/>
<rect x="239.00" y="591.00" width="28.00" height="2.00" fill="#004000"/>
<rect x="237.00" y="590.00" width="5.00" height="5.00" fill="#004000"/>
<text transform="translate(274.10,589.10) scale(0.95,1)" font-size="9.8" fill="#000000" text-anchor="middle">23</text>
<text transform="translate(252.80,589.10) scale(0.95,1)" font-size="9.8" fill="#000000" text-anchor="middle">g15</text>
<text transform="translate(297.00,596.90)" font-size="10.6" fill="#000000" text-anchor="start">G15</text>
<rect x="267.00" y="603.00" width="23.00" height="2.00" fill="#800000"/>
<rect x="239.00" y="603.00" width="28.00" height="2.00" fill="#004000"/>
<rect x="237.00" y="602.00" width="5.00" height="5.00" fill="#004000"/>
<text transform="translate(274.10,601.30) scale(0.95,1)" font-size="9.8" fill="#000000" text-anchor="middle">24</text>
<text transform="translate(255.90,601.30) scale(0.95,1)" font-size="9.8" fill="#000000" text-anchor="middle">g2</text>
<text transform="translate(297.00,609.10)" font-size="10.6" fill="#000000" text-anchor="start">G2</text>
<rect x="267.00" y="615.00" width="23.00" height="2.00" fill="#800000"/>
<rect x="239.00" y="615.00" width="28.00" height="2.00" fill="#004000"/>
<rect x="237.00" y="614.00" width="5.00" height="5.00" fill="#004000"/>
<text transform="translate(274.10,613.20) scale(0.95,1)" font-size="9.8" fill="#000000" text-anchor="middle">25</text>
<text transform="translate(252.80,613.20) scale(0.95,1)" font-size="9.8" fill="#000000" text-anchor="middle">g0</text>
<text transform="translate(297.00,621.00)" font-size="10.6" fill="#000000" text-anchor="start">G0</text>
<rect x="267.00" y="627.00" width="23.00" height="2.00" fill="#800000"/>
<rect x="239.00" y="627.00" width="28.00" height="2.00" fill="#004000"/>
<rect x="237.00" y="626.00" width="5.00" height="5.00" fill="#004000"/>
<text transform="translate(274.10,625.00) scale(0.95,1)" font-size="9.8" fill="#000000" text-anchor="middle">26</text>
<text transform="translate(254.30,625.00) scale(0.95,1)" font-size="9.8" fill="#000000" text-anchor="middle">g4</text>
<text transform="translate(297.00,632.80)" font-size="10.6" fill="#000000" text-anchor="start">G4</text>
<rect x="267.00" y="639.00" width="23.00" height="2.00" fill="#800000"/>
<rect x="238.00" y="639.00" width="29.00" height="2.00" fill="#004000"/>
<rect x="236.00" y="638.00" width="5.00" height="5.00" fill="#004000"/>
<text transform="translate(274.10,636.60) scale(0.95,1)" font-size="9.8" fill="#000000" text-anchor="middle">27</text>
<text transform="translate(257.40,636.60) scale(0.95,1)" font-size="9.8" fill="#000000" text-anchor="middle">g16</text>
<text transform="translate(297.00,644.40)" font-size="10.6" fill="#000000" text-anchor="start">G16</text>
<rect x="267.00" y="650.00" width="23.00" height="2.00" fill="#800000"/>
<rect x="239.00" y="650.00" width="28.00" height="2.00" fill="#004000"/>
<rect x="237.00" y="649.00" width="5.00" height="5.00" fill="#004000"/>
<text transform="translate(274.10,648.10) scale(0.95,1)" font-size="9.8" fill="#000000" text-anchor="middle">28</text>
<text transform="translate(255.90,648.10) scale(0.95,1)" font-size="9.8" fill="#000000" text-anchor="middle">g17</text>
<text transform="translate(297.00,655.90)" font-size="10.6" fill="#000000" text-anchor="start">G17</text>
<rect x="267.00" y="662.00" width="23.00" height="2.00" fill="#800000"/>
<rect x="241.00" y="662.00" width="26.00" height="2.00" fill="#004000"/>
<rect x="239.00" y="661.00" width="5.00" height="5.00" fill="#004000"/>
<text transform="translate(274.10,660.00) scale(0.95,1)" font-size="9.8" fill="#000000" text-anchor="middle">29</text>
<text transform="translate(254.30,660.00) scale(0.95,1)" font-size="9.8" fill="#000000" text-anchor="middle">g5</text>
<text transform="translate(297.00,667.80)" font-size="10.6" fill="#000000" text-anchor="start">G5</text>
<rect x="267.00" y="674.00" width="23.00" height="2.00" fill="#800000"/>
<rect x="242.00" y="674.00" width="25.00" height="2.00" fill="#004000"/>
<rect x="240.00" y="673.00" width="5.00" height="5.00" fill="#004000"/>
<text transform="translate(274.10,672.20) scale(0.95,1)" font-size="9.8" fill="#000000" text-anchor="middle">30</text>
<text transform="translate(257.40,672.20) scale(0.95,1)" font-size="9.8" fill="#000000" text-anchor="middle">g18</text>
<text transform="translate(297.00,680.00)" font-size="10.6" fill="#000000" text-anchor="start">G18</text>
<rect x="267.00" y="686.00" width="23.00" height="2.00" fill="#800000"/>
<rect x="242.00" y="686.00" width="25.00" height="2.00" fill="#004000"/>
<rect x="240.00" y="685.00" width="5.00" height="5.00" fill="#004000"/>
<text transform="translate(274.10,684.00) scale(0.95,1)" font-size="9.8" fill="#000000" text-anchor="middle">31</text>
<text transform="translate(257.40,684.00) scale(0.95,1)" font-size="9.8" fill="#000000" text-anchor="middle">lm5</text>
<text transform="translate(297.00,691.80)" font-size="10.6" fill="#000000" text-anchor="start">G19</text>
<rect x="267.00" y="698.00" width="23.00" height="2.00" fill="#800000"/>
<rect x="242.00" y="698.00" width="25.00" height="2.00" fill="#004000"/>
<rect x="240.00" y="697.00" width="5.00" height="5.00" fill="#004000"/>
<text transform="translate(274.10,696.20) scale(0.95,1)" font-size="9.8" fill="#000000" text-anchor="middle">32</text>
<text transform="translate(257.40,696.20) scale(0.95,1)" font-size="9.8" fill="#000000" text-anchor="middle">gnd</text>
<text transform="translate(297.00,704.00)" font-size="10.6" fill="#000000" text-anchor="start">GND</text>
<rect x="267.00" y="710.00" width="23.00" height="2.00" fill="#800000"/>
<rect x="243.00" y="710.00" width="24.00" height="2.00" fill="#004000"/>
<rect x="241.00" y="709.00" width="5.00" height="5.00" fill="#004000"/>
<text transform="translate(274.10,708.00) scale(0.95,1)" font-size="9.8" fill="#000000" text-anchor="middle">33</text>
<text transform="translate(257.40,708.00) scale(0.95,1)" font-size="9.8" fill="#000000" text-anchor="middle">g21</text>
<text transform="translate(297.00,715.80)" font-size="10.6" fill="#000000" text-anchor="start">G21</text>
<rect x="267.00" y="722.00" width="23.00" height="2.00" fill="#800000"/>
<rect x="239.00" y="722.00" width="28.00" height="2.00" fill="#004000"/>
<rect x="237.00" y="721.00" width="5.00" height="5.00" fill="#004000"/>
<text transform="translate(274.10,720.00) scale(0.95,1)" font-size="9.8" fill="#000000" text-anchor="middle">34</text>
<text transform="translate(251.90,720.00) scale(0.95,1)" font-size="9.8" fill="#000000" text-anchor="middle">s1</text>
<text transform="translate(297.00,727.80)" font-size="10.6" fill="#000000" text-anchor="start">RXD</text>
<rect x="267.00" y="734.00" width="23.00" height="2.00" fill="#800000"/>
<rect x="234.00" y="734.00" width="33.00" height="2.00" fill="#004000"/>
<rect x="232.00" y="733.00" width="5.00" height="5.00" fill="#004000"/>
<text transform="translate(274.10,732.00) scale(0.95,1)" font-size="9.8" fill="#000000" text-anchor="middle">35</text>
<text transform="translate(246.70,732.00) scale(0.95,1)" font-size="9.8" fill="#000000" text-anchor="middle">s0</text>
<text transform="translate(297.00,739.80)" font-size="10.6" fill="#000000" text-anchor="start">TXD</text>
<rect x="267.00" y="746.00" width="23.00" height="2.00" fill="#800000"/>
<rect x="242.00" y="746.00" width="25.00" height="2.00" fill="#004000"/>
<rect x="240.00" y="745.00" width="5.00" height="5.00" fill="#004000"/>
<text transform="translate(274.10,744.00) scale(0.95,1)" font-size="9.8" fill="#000000" text-anchor="middle">36</text>
<text transform="translate(257.40,744.00) scale(0.95,1)" font-size="9.8" fill="#000000" text-anchor="middle">g22</text>
<text transform="translate(297.00,751.80)" font-size="10.6" fill="#000000" text-anchor="start">G22</text>
<rect x="267.00" y="758.00" width="23.00" height="2.00" fill="#800000"/>
<rect x="241.00" y="758.00" width="26.00" height="2.00" fill="#004000"/>
<rect x="239.00" y="757.00" width="5.00" height="5.00" fill="#004000"/>
<text transform="translate(274.10,755.80) scale(0.95,1)" font-size="9.8" fill="#000000" text-anchor="middle">37</text>
<text transform="translate(257.40,755.80) scale(0.95,1)" font-size="9.8" fill="#000000" text-anchor="middle">lm6</text>
<text transform="translate(297.00,763.60)" font-size="10.6" fill="#000000" text-anchor="start">G23</text>
<rect x="267.00" y="769.00" width="23.00" height="2.00" fill="#800000"/>
<rect x="243.00" y="769.00" width="24.00" height="2.00" fill="#004000"/>
<rect x="241.00" y="768.00" width="5.00" height="5.00" fill="#004000"/>
<text transform="translate(274.10,767.40) scale(0.95,1)" font-size="9.8" fill="#000000" text-anchor="middle">38</text>
<text transform="translate(258.90,767.40) scale(0.95,1)" font-size="9.8" fill="#000000" text-anchor="middle">gnd</text>
<text transform="translate(297.00,775.20)" font-size="10.6" fill="#000000" text-anchor="start">GND</text>
<rect x="374.00" y="555.00" width="24.00" height="2.00" fill="#800000"/>
<rect x="398.00" y="555.00" width="33.00" height="2.00" fill="#004000"/>
<rect x="429.00" y="554.00" width="5.00" height="5.00" fill="#004000"/>
<text transform="translate(421.60,553.20) scale(0.95,1)" font-size="9.8" fill="#000000" text-anchor="middle">5nv</text>
<text transform="translate(368.50,561.00)" font-size="10.6" fill="#000000" text-anchor="end">5V</text>
<rect x="374.00" y="567.00" width="24.00" height="2.00" fill="#800000"/>
<rect x="398.00" y="567.00" width="33.00" height="2.00" fill="#004000"/>
<rect x="429.00" y="566.00" width="5.00" height="5.00" fill="#004000"/>
<text transform="translate(418.60,565.40) scale(0.95,1)" font-size="9.8" fill="#000000" text-anchor="middle">cmd</text>
<text transform="translate(368.50,573.20)" font-size="10.6" fill="#000000" text-anchor="end">CMD</text>
<rect x="374.00" y="579.00" width="24.00" height="2.00" fill="#800000"/>
<rect x="398.00" y="579.00" width="34.00" height="2.00" fill="#004000"/>
<rect x="430.00" y="578.00" width="5.00" height="5.00" fill="#004000"/>
<text transform="translate(423.20,577.30) scale(0.95,1)" font-size="9.8" fill="#000000" text-anchor="middle">sd3</text>
<text transform="translate(368.50,585.10)" font-size="10.6" fill="#000000" text-anchor="end">SD3</text>
<rect x="374.00" y="591.00" width="24.00" height="2.00" fill="#800000"/>
<text transform="translate(368.50,596.90)" font-size="10.6" fill="#000000" text-anchor="end">SD2</text>
<rect x="374.00" y="603.00" width="24.00" height="2.00" fill="#800000"/>
<rect x="398.00" y="603.00" width="36.00" height="2.00" fill="#004000"/>
<rect x="432.00" y="602.00" width="5.00" height="5.00" fill="#004000"/>
<text transform="translate(421.00,601.30) scale(0.95,1)" font-size="9.8" fill="#000000" text-anchor="middle">g13</text>
<text transform="translate(368.50,609.10)" font-size="10.6" fill="#000000" text-anchor="end">G13</text>
<rect x="374.00" y="615.00" width="24.00" height="2.00" fill="#800000"/>
<rect x="398.00" y="615.00" width="34.00" height="2.00" fill="#004000"/>
<rect x="430.00" y="614.00" width="5.00" height="5.00" fill="#004000"/>
<text transform="translate(421.00,613.20) scale(0.95,1)" font-size="9.8" fill="#000000" text-anchor="middle">gnd</text>
<text transform="translate(368.50,621.00)" font-size="10.6" fill="#000000" text-anchor="end">GND</text>
<rect x="374.00" y="627.00" width="24.00" height="2.00" fill="#800000"/>
<rect x="398.00" y="627.00" width="36.00" height="2.00" fill="#004000"/>
<rect x="432.00" y="626.00" width="5.00" height="5.00" fill="#004000"/>
<text transform="translate(420.00,625.00) scale(0.95,1)" font-size="9.8" fill="#000000" text-anchor="middle">g12</text>
<text transform="translate(368.50,632.80)" font-size="10.6" fill="#000000" text-anchor="end">G12</text>
<rect x="374.00" y="639.00" width="24.00" height="2.00" fill="#800000"/>
<rect x="398.00" y="639.00" width="36.00" height="2.00" fill="#004000"/>
<rect x="432.00" y="638.00" width="5.00" height="5.00" fill="#004000"/>
<text transform="translate(429.20,636.60) scale(0.95,1)" font-size="9.8" fill="#000000" text-anchor="middle">g14</text>
<text transform="translate(368.50,644.40)" font-size="10.6" fill="#000000" text-anchor="end">G14</text>
<rect x="374.00" y="650.00" width="24.00" height="2.00" fill="#800000"/>
<text transform="translate(368.50,655.90)" font-size="10.6" fill="#000000" text-anchor="end">G27</text>
<rect x="374.00" y="662.00" width="24.00" height="2.00" fill="#800000"/>
<text transform="translate(368.50,667.80)" font-size="10.6" fill="#000000" text-anchor="end">G26</text>
<rect x="374.00" y="674.00" width="24.00" height="2.00" fill="#800000"/>
<rect x="398.00" y="674.00" width="33.00" height="2.00" fill="#004000"/>
<rect x="429.00" y="673.00" width="5.00" height="5.00" fill="#004000"/>
<text transform="translate(415.60,672.20) scale(0.95,1)" font-size="9.8" fill="#000000" text-anchor="middle">g25</text>
<text transform="translate(368.50,680.00)" font-size="10.6" fill="#000000" text-anchor="end">G25</text>
<rect x="374.00" y="686.00" width="24.00" height="2.00" fill="#800000"/>
<rect x="398.00" y="686.00" width="33.00" height="2.00" fill="#004000"/>
<rect x="429.00" y="685.00" width="5.00" height="5.00" fill="#004000"/>
<text transform="translate(429.20,684.00) scale(0.95,1)" font-size="9.8" fill="#000000" text-anchor="middle">g33</text>
<text transform="translate(368.50,691.80)" font-size="10.6" fill="#000000" text-anchor="end">G33</text>
<rect x="374.00" y="698.00" width="24.00" height="2.00" fill="#800000"/>
<rect x="398.00" y="698.00" width="33.00" height="2.00" fill="#004000"/>
<rect x="429.00" y="697.00" width="5.00" height="5.00" fill="#004000"/>
<text transform="translate(427.70,696.20) scale(0.95,1)" font-size="9.8" fill="#000000" text-anchor="middle">g32</text>
<text transform="translate(368.50,704.00)" font-size="10.6" fill="#000000" text-anchor="end">G32</text>
<rect x="374.00" y="710.00" width="24.00" height="2.00" fill="#800000"/>
<rect x="398.00" y="710.00" width="33.00" height="2.00" fill="#004000"/>
<rect x="429.00" y="709.00" width="5.00" height="5.00" fill="#004000"/>
<text transform="translate(429.20,708.00) scale(0.95,1)" font-size="9.8" fill="#000000" text-anchor="middle">g35</text>
<text transform="translate(368.50,715.80)" font-size="10.6" fill="#000000" text-anchor="end">G35</text>
<rect x="374.00" y="722.00" width="24.00" height="2.00" fill="#800000"/>
<rect x="398.00" y="722.00" width="33.00" height="2.00" fill="#004000"/>
<rect x="429.00" y="721.00" width="5.00" height="5.00" fill="#004000"/>
<text transform="translate(430.80,720.00) scale(0.95,1)" font-size="9.8" fill="#000000" text-anchor="middle">lm4</text>
<text transform="translate(368.50,727.80)" font-size="10.6" fill="#000000" text-anchor="end">G34</text>
<rect x="374.00" y="734.00" width="24.00" height="2.00" fill="#800000"/>
<text transform="translate(368.50,739.80)" font-size="10.6" fill="#000000" text-anchor="end">SN</text>
<rect x="374.00" y="746.00" width="24.00" height="2.00" fill="#800000"/>
<text transform="translate(368.50,751.80)" font-size="10.6" fill="#000000" text-anchor="end">SP</text>
<rect x="374.00" y="758.00" width="24.00" height="2.00" fill="#800000"/>
<text transform="translate(368.50,763.60)" font-size="10.6" fill="#000000" text-anchor="end">EN</text>
<rect x="374.00" y="769.00" width="24.00" height="2.00" fill="#800000"/>
<rect x="398.00" y="769.00" width="33.00" height="2.00" fill="#004000"/>
<rect x="429.00" y="768.00" width="5.00" height="5.00" fill="#004000"/>
<text transform="translate(424.70,767.40) scale(0.95,1)" font-size="9.8" fill="#000000" text-anchor="middle">3v3</text>
<text transform="translate(368.50,775.20)" font-size="10.6" fill="#000000" text-anchor="end">3v3</text>
<text transform="translate(391.50,565.90) scale(0.95,1)" font-size="9.8" fill="#000000" text-anchor="middle">1</text>
<text transform="translate(391.50,577.80) scale(0.95,1)" font-size="9.8" fill="#000000" text-anchor="middle">2</text>
<text transform="translate(391.50,589.60) scale(0.95,1)" font-size="9.8" fill="#000000" text-anchor="middle">3</text>
<text transform="translate(391.50,601.80) scale(0.95,1)" font-size="9.8" fill="#000000" text-anchor="middle">4</text>
<text transform="translate(391.50,613.70) scale(0.95,1)" font-size="9.8" fill="#000000" text-anchor="middle">5</text>
<text transform="translate(391.50,625.50) scale(0.95,1)" font-size="9.8" fill="#000000" text-anchor="middle">6</text>
<text transform="translate(391.50,637.10) scale(0.95,1)" font-size="9.8" fill="#000000" text-anchor="middle">7</text>
<text transform="translate(391.50,648.60) scale(0.95,1)" font-size="9.8" fill="#000000" text-anchor="middle">8</text>
<text transform="translate(391.50,660.50) scale(0.95,1)" font-size="9.8" fill="#000000" text-anchor="middle">9</text>
<text transform="translate(391.50,672.70) scale(0.95,1)" font-size="9.8" fill="#000000" text-anchor="middle">10</text>
<text transform="translate(391.50,684.50) scale(0.95,1)" font-size="9.8" fill="#000000" text-anchor="middle">11</text>
<text transform="translate(391.50,696.70) scale(0.95,1)" font-size="9.8" fill="#000000" text-anchor="middle">12</text>
<text transform="translate(391.50,708.50) scale(0.95,1)" font-size="9.8" fill="#000000" text-anchor="middle">13</text>
<text transform="translate(391.50,720.50) scale(0.95,1)" font-size="9.8" fill="#000000" text-anchor="middle">14</text>
<text transform="translate(391.50,732.50) scale(0.95,1)" font-size="9.8" fill="#000000" text-anchor="middle">15</text>
<text transform="translate(391.50,744.50) scale(0.95,1)" font-size="9.8" fill="#000000" text-anchor="middle">16</text>
<text transform="translate(391.50,756.30) scale(0.95,1)" font-size="9.8" fill="#000000" text-anchor="middle">17</text>
<text transform="translate(391.50,767.90) scale(0.95,1)" font-size="9.8" fill="#000000" text-anchor="middle">18</text>
<text transform="translate(391.50,780.50) scale(0.95,1)" font-size="9.8" fill="#000000" text-anchor="middle">19</text>
<text transform="translate(333.00,679.00)" font-size="10" fill="#8a0000" text-anchor="middle" textLength="57.5" lengthAdjust="spacingAndGlyphs">esp32 38pins</text>
<text transform="translate(101.30,321.40) scale(0.96,1)" font-size="15.8" fill="#000000" text-anchor="start">SPEAR 4</text>
<rect x="102" y="325" width="23" height="60" fill="#c8c8a8" stroke="#800000" stroke-width="2"/>
<rect x="149.00" y="336.00" width="28.00" height="2.00" fill="#004000"/>
<rect x="175.00" y="335.00" width="5.00" height="5.00" fill="#004000"/>
<rect x="114.00" y="336.00" width="35.00" height="2.00" fill="#800000"/>
<circle cx="114" cy="337" r="3.5" fill="#dfdfd0" stroke="#800000" stroke-width="1.8"/>
<text transform="translate(140.00,334.10) scale(0.95,1)" font-size="9.8" fill="#000000" text-anchor="middle">4</text>
<text transform="translate(167.90,334.10) scale(0.95,1)" font-size="9.8" fill="#000000" text-anchor="middle">s0</text>
<rect x="149.00" y="348.00" width="30.00" height="2.00" fill="#004000"/>
<rect x="177.00" y="347.00" width="5.00" height="5.00" fill="#004000"/>
<rect x="114.00" y="348.00" width="35.00" height="2.00" fill="#800000"/>
<circle cx="114" cy="349" r="3.5" fill="#dfdfd0" stroke="#800000" stroke-width="1.8"/>
<text transform="translate(140.00,346.10) scale(0.95,1)" font-size="9.8" fill="#000000" text-anchor="middle">3</text>
<text transform="translate(169.50,346.10) scale(0.95,1)" font-size="9.8" fill="#000000" text-anchor="middle">s1</text>
<rect x="149.00" y="360.00" width="29.00" height="2.00" fill="#004000"/>
<rect x="176.00" y="359.00" width="5.00" height="5.00" fill="#004000"/>
<rect x="114.00" y="360.00" width="35.00" height="2.00" fill="#800000"/>
<circle cx="114" cy="361" r="3.5" fill="#dfdfd0" stroke="#800000" stroke-width="1.8"/>
<text transform="translate(140.00,358.10) scale(0.95,1)" font-size="9.8" fill="#000000" text-anchor="middle">2</text>
<text transform="translate(174.50,358.10) scale(0.95,1)" font-size="9.8" fill="#000000" text-anchor="middle">gnd</text>
<rect x="149.00" y="372.00" width="29.00" height="2.00" fill="#004000"/>
<rect x="176.00" y="371.00" width="5.00" height="5.00" fill="#004000"/>
<rect x="114.00" y="372.00" width="35.00" height="2.00" fill="#800000"/>
<circle cx="114" cy="373" r="3.5" fill="#dfdfd0" stroke="#800000" stroke-width="1.8"/>
<text transform="translate(140.00,370.10) scale(0.95,1)" font-size="9.8" fill="#000000" text-anchor="middle">1</text>
<text transform="translate(172.00,370.10) scale(0.95,1)" font-size="9.8" fill="#000000" text-anchor="middle">5v</text>
<text transform="translate(86.30,417.40) scale(0.96,1)" font-size="15.8" fill="#000000" text-anchor="start">SPEAR 5</text>
<rect x="87" y="421" width="24" height="59" fill="#c8c8a8" stroke="#800000" stroke-width="2"/>
<rect x="135.00" y="431.00" width="30.00" height="2.00" fill="#004000"/>
<rect x="163.00" y="430.00" width="5.00" height="5.00" fill="#004000"/>
<rect x="99.00" y="431.00" width="36.00" height="2.00" fill="#800000"/>
<circle cx="99" cy="432" r="3.5" fill="#dfdfd0" stroke="#800000" stroke-width="1.8"/>
<text transform="translate(125.60,429.00) scale(0.95,1)" font-size="9.8" fill="#000000" text-anchor="middle">4</text>
<text transform="translate(149.30,429.00) scale(0.95,1)" font-size="9.8" fill="#000000" text-anchor="middle">5v</text>
<rect x="135.00" y="443.00" width="32.00" height="2.00" fill="#004000"/>
<rect x="165.00" y="442.00" width="5.00" height="5.00" fill="#004000"/>
<rect x="99.00" y="443.00" width="36.00" height="2.00" fill="#800000"/>
<circle cx="99" cy="444" r="3.5" fill="#dfdfd0" stroke="#800000" stroke-width="1.8"/>
<text transform="translate(125.60,441.00) scale(0.95,1)" font-size="9.8" fill="#000000" text-anchor="middle">3</text>
<text transform="translate(154.40,441.00) scale(0.95,1)" font-size="9.8" fill="#000000" text-anchor="middle">gnd</text>
<rect x="135.00" y="455.00" width="32.00" height="2.00" fill="#004000"/>
<rect x="165.00" y="454.00" width="5.00" height="5.00" fill="#004000"/>
<rect x="99.00" y="455.00" width="36.00" height="2.00" fill="#800000"/>
<circle cx="99" cy="456" r="3.5" fill="#dfdfd0" stroke="#800000" stroke-width="1.8"/>
<text transform="translate(125.60,453.00) scale(0.95,1)" font-size="9.8" fill="#000000" text-anchor="middle">2</text>
<text transform="translate(153.40,453.00) scale(0.95,1)" font-size="9.8" fill="#000000" text-anchor="middle">a1</text>
<rect x="135.00" y="467.00" width="36.00" height="2.00" fill="#004000"/>
<rect x="169.00" y="466.00" width="5.00" height="5.00" fill="#004000"/>
<rect x="99.00" y="467.00" width="36.00" height="2.00" fill="#800000"/>
<circle cx="99" cy="468" r="3.5" fill="#dfdfd0" stroke="#800000" stroke-width="1.8"/>
<text transform="translate(125.60,465.20) scale(0.95,1)" font-size="9.8" fill="#000000" text-anchor="middle">1</text>
<text transform="translate(152.40,465.20) scale(0.95,1)" font-size="9.8" fill="#000000" text-anchor="middle">a2</text>
<text transform="translate(146.70,530.30) scale(0.96,1)" font-size="15.8" fill="#000000" text-anchor="start">SPEAR3</text>
<rect x="147" y="534" width="24" height="47" fill="#c8c8a8" stroke="#800000" stroke-width="2"/>
<rect x="195.00" y="544.00" width="17.00" height="2.00" fill="#004000"/>
<rect x="210.00" y="543.00" width="5.00" height="5.00" fill="#004000"/>
<rect x="159.00" y="544.00" width="36.00" height="2.00" fill="#800000"/>
<circle cx="159" cy="545" r="3.5" fill="#dfdfd0" stroke="#800000" stroke-width="1.8"/>
<text transform="translate(186.30,542.20) scale(0.95,1)" font-size="9.8" fill="#000000" text-anchor="middle">3</text>
<text transform="translate(208.00,542.20) scale(0.95,1)" font-size="9.8" fill="#000000" text-anchor="middle">sd1</text>
<rect x="195.00" y="556.00" width="20.00" height="2.00" fill="#004000"/>
<rect x="213.00" y="555.00" width="5.00" height="5.00" fill="#004000"/>
<rect x="159.00" y="556.00" width="36.00" height="2.00" fill="#800000"/>
<circle cx="159" cy="557" r="3.5" fill="#dfdfd0" stroke="#800000" stroke-width="1.8"/>
<text transform="translate(186.30,554.40) scale(0.95,1)" font-size="9.8" fill="#000000" text-anchor="middle">2</text>
<text transform="translate(210.60,554.40) scale(0.95,1)" font-size="9.8" fill="#000000" text-anchor="middle">sd0</text>
<rect x="195.00" y="569.00" width="17.00" height="2.00" fill="#004000"/>
<rect x="210.00" y="568.00" width="5.00" height="5.00" fill="#004000"/>
<rect x="159.00" y="569.00" width="36.00" height="2.00" fill="#800000"/>
<circle cx="159" cy="570" r="3.5" fill="#dfdfd0" stroke="#800000" stroke-width="1.8"/>
<text transform="translate(186.30,566.50) scale(0.95,1)" font-size="9.8" fill="#000000" text-anchor="middle">1</text>
<text transform="translate(209.70,566.50) scale(0.95,1)" font-size="9.8" fill="#000000" text-anchor="middle">clc</text>
<text transform="translate(755.50,287.80) scale(0.96,1)" font-size="15.8" fill="#000000" text-anchor="start">DDM 10A</text>
<rect x="756" y="291" width="24" height="129" fill="#c8c8a8" stroke="#800000" stroke-width="2"/>
<rect x="706.00" y="302.00" width="26.00" height="2.00" fill="#004000"/>
<rect x="704.00" y="301.00" width="5.00" height="5.00" fill="#004000"/>
<rect x="732.00" y="302.00" width="36.00" height="2.00" fill="#800000"/>
<circle cx="768" cy="303" r="3.5" fill="#dfdfd0" stroke="#800000" stroke-width="1.8"/>
<text transform="translate(742.00,300.10) scale(0.95,1)" font-size="9.8" fill="#000000" text-anchor="middle">1</text>
<text transform="translate(724.00,300.10) scale(0.95,1)" font-size="9.8" fill="#000000" text-anchor="middle">j3m2</text>
<rect x="706.00" y="314.00" width="26.00" height="2.00" fill="#004000"/>
<rect x="704.00" y="313.00" width="5.00" height="5.00" fill="#004000"/>
<rect x="732.00" y="314.00" width="36.00" height="2.00" fill="#800000"/>
<circle cx="768" cy="315" r="3.5" fill="#dfdfd0" stroke="#800000" stroke-width="1.8"/>
<text transform="translate(742.00,312.30) scale(0.95,1)" font-size="9.8" fill="#000000" text-anchor="middle">2</text>
<text transform="translate(724.00,312.30) scale(0.95,1)" font-size="9.8" fill="#000000" text-anchor="middle">j3m1</text>
<rect x="706.00" y="326.00" width="26.00" height="2.00" fill="#004000"/>
<rect x="704.00" y="325.00" width="5.00" height="5.00" fill="#004000"/>
<rect x="732.00" y="326.00" width="36.00" height="2.00" fill="#800000"/>
<circle cx="768" cy="327" r="3.5" fill="#dfdfd0" stroke="#800000" stroke-width="1.8"/>
<text transform="translate(742.00,324.20) scale(0.95,1)" font-size="9.8" fill="#000000" text-anchor="middle">3</text>
<text transform="translate(724.00,324.20) scale(0.95,1)" font-size="9.8" fill="#000000" text-anchor="middle">j2m1</text>
<rect x="705.00" y="337.00" width="27.00" height="2.00" fill="#004000"/>
<rect x="703.00" y="336.00" width="5.00" height="5.00" fill="#004000"/>
<rect x="732.00" y="337.00" width="36.00" height="2.00" fill="#800000"/>
<circle cx="768" cy="338" r="3.5" fill="#dfdfd0" stroke="#800000" stroke-width="1.8"/>
<text transform="translate(742.00,335.30) scale(0.95,1)" font-size="9.8" fill="#000000" text-anchor="middle">4</text>
<text transform="translate(729.80,335.30) scale(0.95,1)" font-size="9.8" fill="#000000" text-anchor="middle">j2m2</text>
<rect x="705.00" y="350.00" width="27.00" height="2.00" fill="#004000"/>
<rect x="703.00" y="349.00" width="5.00" height="5.00" fill="#004000"/>
<rect x="732.00" y="350.00" width="36.00" height="2.00" fill="#800000"/>
<circle cx="768" cy="351" r="3.5" fill="#dfdfd0" stroke="#800000" stroke-width="1.8"/>
<text transform="translate(742.00,347.50) scale(0.95,1)" font-size="9.8" fill="#000000" text-anchor="middle">5</text>
<text transform="translate(722.00,347.50) scale(0.95,1)" font-size="9.8" fill="#000000" text-anchor="middle">12v</text>
<rect x="705.00" y="361.00" width="27.00" height="2.00" fill="#004000"/>
<rect x="703.00" y="360.00" width="5.00" height="5.00" fill="#004000"/>
<rect x="732.00" y="361.00" width="36.00" height="2.00" fill="#800000"/>
<circle cx="768" cy="362" r="3.5" fill="#dfdfd0" stroke="#800000" stroke-width="1.8"/>
<text transform="translate(742.00,359.40) scale(0.95,1)" font-size="9.8" fill="#000000" text-anchor="middle">6</text>
<text transform="translate(722.00,359.40) scale(0.95,1)" font-size="9.8" fill="#000000" text-anchor="middle">gnd</text>
<rect x="705.00" y="374.00" width="27.00" height="2.00" fill="#004000"/>
<rect x="703.00" y="373.00" width="5.00" height="5.00" fill="#004000"/>
<rect x="732.00" y="374.00" width="36.00" height="2.00" fill="#800000"/>
<circle cx="768" cy="375" r="3.5" fill="#dfdfd0" stroke="#800000" stroke-width="1.8"/>
<text transform="translate(742.00,371.60) scale(0.95,1)" font-size="9.8" fill="#000000" text-anchor="middle">7</text>
<text transform="translate(722.00,371.60) scale(0.95,1)" font-size="9.8" fill="#000000" text-anchor="middle">d12</text>
<rect x="705.00" y="386.00" width="27.00" height="2.00" fill="#004000"/>
<rect x="703.00" y="385.00" width="5.00" height="5.00" fill="#004000"/>
<rect x="732.00" y="386.00" width="36.00" height="2.00" fill="#800000"/>
<circle cx="768" cy="387" r="3.5" fill="#dfdfd0" stroke="#800000" stroke-width="1.8"/>
<text transform="translate(742.00,383.50) scale(0.95,1)" font-size="9.8" fill="#000000" text-anchor="middle">8</text>
<text transform="translate(719.70,383.50) scale(0.95,1)" font-size="9.8" fill="#000000" text-anchor="middle">d14</text>
<rect x="705.00" y="398.00" width="27.00" height="2.00" fill="#004000"/>
<rect x="703.00" y="397.00" width="5.00" height="5.00" fill="#004000"/>
<rect x="732.00" y="398.00" width="36.00" height="2.00" fill="#800000"/>
<circle cx="768" cy="399" r="2.6" fill="#dfdfd0" stroke="#800000" stroke-width="1.8"/>
<text transform="translate(742.00,395.70) scale(0.95,1)" font-size="9.8" fill="#000000" text-anchor="middle">9</text>
<text transform="translate(719.70,395.70) scale(0.95,1)" font-size="9.8" fill="#000000" text-anchor="middle">d33</text>
<rect x="705.00" y="410.00" width="27.00" height="2.00" fill="#004000"/>
<rect x="703.00" y="409.00" width="5.00" height="5.00" fill="#004000"/>
<rect x="732.00" y="410.00" width="36.00" height="2.00" fill="#800000"/>
<circle cx="768" cy="411" r="2.6" fill="#dfdfd0" stroke="#800000" stroke-width="1.8"/>
<text transform="translate(742.00,407.50) scale(0.95,1)" font-size="9.8" fill="#000000" text-anchor="middle">10</text>
<text transform="translate(722.00,407.50) scale(0.95,1)" font-size="9.8" fill="#000000" text-anchor="middle">d32</text>
<text transform="translate(766.50,461.90) scale(0.96,1)" font-size="15.8" fill="#000000" text-anchor="start">DAUL 5A</text>
<rect x="767" y="465" width="24" height="129" fill="#c8c8a8" stroke="#800000" stroke-width="2"/>
<rect x="713.00" y="475.00" width="30.00" height="2.00" fill="#004000"/>
<rect x="711.00" y="474.00" width="5.00" height="5.00" fill="#004000"/>
<rect x="743.00" y="475.00" width="36.00" height="2.00" fill="#800000"/>
<circle cx="779" cy="476" r="3.5" fill="#dfdfd0" stroke="#800000" stroke-width="1.8"/>
<text transform="translate(752.60,473.10) scale(0.95,1)" font-size="9.8" fill="#000000" text-anchor="middle">1</text>
<text transform="translate(732.30,473.10) scale(0.95,1)" font-size="9.8" fill="#000000" text-anchor="middle">12v</text>
<rect x="713.00" y="487.00" width="30.00" height="2.00" fill="#004000"/>
<rect x="711.00" y="486.00" width="5.00" height="5.00" fill="#004000"/>
<rect x="743.00" y="487.00" width="36.00" height="2.00" fill="#800000"/>
<circle cx="779" cy="488" r="3.5" fill="#dfdfd0" stroke="#800000" stroke-width="1.8"/>
<text transform="translate(752.60,485.30) scale(0.95,1)" font-size="9.8" fill="#000000" text-anchor="middle">2</text>
<text transform="translate(732.30,485.30) scale(0.95,1)" font-size="9.8" fill="#000000" text-anchor="middle">gnd</text>
<rect x="713.00" y="500.00" width="30.00" height="2.00" fill="#004000"/>
<rect x="711.00" y="499.00" width="5.00" height="5.00" fill="#004000"/>
<rect x="743.00" y="500.00" width="36.00" height="2.00" fill="#800000"/>
<circle cx="779" cy="501" r="3.5" fill="#dfdfd0" stroke="#800000" stroke-width="1.8"/>
<text transform="translate(752.60,497.50) scale(0.95,1)" font-size="9.8" fill="#000000" text-anchor="middle">3</text>
<text transform="translate(730.40,497.50) scale(0.95,1)" font-size="9.8" fill="#000000" text-anchor="middle">j1m1</text>
<rect x="713.00" y="511.00" width="30.00" height="2.00" fill="#004000"/>
<rect x="711.00" y="510.00" width="5.00" height="5.00" fill="#004000"/>
<rect x="743.00" y="511.00" width="36.00" height="2.00" fill="#800000"/>
<circle cx="779" cy="512" r="3.5" fill="#dfdfd0" stroke="#800000" stroke-width="1.8"/>
<text transform="translate(752.60,509.00) scale(0.95,1)" font-size="9.8" fill="#000000" text-anchor="middle">4</text>
<text transform="translate(732.30,509.00) scale(0.95,1)" font-size="9.8" fill="#000000" text-anchor="middle">j1m2</text>
<rect x="713.00" y="523.00" width="30.00" height="2.00" fill="#004000"/>
<rect x="711.00" y="522.00" width="5.00" height="5.00" fill="#004000"/>
<rect x="743.00" y="523.00" width="36.00" height="2.00" fill="#800000"/>
<circle cx="779" cy="524" r="3.5" fill="#dfdfd0" stroke="#800000" stroke-width="1.8"/>
<text transform="translate(752.60,521.20) scale(0.95,1)" font-size="9.8" fill="#000000" text-anchor="middle">5</text>
<text transform="translate(732.30,521.20) scale(0.95,1)" font-size="9.8" fill="#000000" text-anchor="middle">j4m1</text>
<rect x="713.00" y="535.00" width="30.00" height="2.00" fill="#004000"/>
<rect x="711.00" y="534.00" width="5.00" height="5.00" fill="#004000"/>
<rect x="743.00" y="535.00" width="36.00" height="2.00" fill="#800000"/>
<circle cx="779" cy="536" r="3.5" fill="#dfdfd0" stroke="#800000" stroke-width="1.8"/>
<text transform="translate(752.60,533.30) scale(0.95,1)" font-size="9.8" fill="#000000" text-anchor="middle">6</text>
<text transform="translate(730.40,533.30) scale(0.95,1)" font-size="9.8" fill="#000000" text-anchor="middle">j4m2</text>
<rect x="713.00" y="547.00" width="30.00" height="2.00" fill="#004000"/>
<rect x="711.00" y="546.00" width="5.00" height="5.00" fill="#004000"/>
<rect x="743.00" y="547.00" width="36.00" height="2.00" fill="#800000"/>
<circle cx="779" cy="548" r="3.5" fill="#dfdfd0" stroke="#800000" stroke-width="1.8"/>
<text transform="translate(752.60,545.30) scale(0.95,1)" font-size="9.8" fill="#000000" text-anchor="middle">7</text>
<text transform="translate(732.30,545.30) scale(0.95,1)" font-size="9.8" fill="#000000" text-anchor="middle">g32</text>
<rect x="713.00" y="559.00" width="30.00" height="2.00" fill="#004000"/>
<rect x="711.00" y="558.00" width="5.00" height="5.00" fill="#004000"/>
<rect x="743.00" y="559.00" width="36.00" height="2.00" fill="#800000"/>
<circle cx="779" cy="560" r="3.5" fill="#dfdfd0" stroke="#800000" stroke-width="1.8"/>
<text transform="translate(752.60,557.20) scale(0.95,1)" font-size="9.8" fill="#000000" text-anchor="middle">8</text>
<text transform="translate(732.30,557.20) scale(0.95,1)" font-size="9.8" fill="#000000" text-anchor="middle">g35</text>
<rect x="713.00" y="571.00" width="30.00" height="2.00" fill="#004000"/>
<rect x="711.00" y="570.00" width="5.00" height="5.00" fill="#004000"/>
<rect x="743.00" y="571.00" width="36.00" height="2.00" fill="#800000"/>
<circle cx="779" cy="572" r="2.6" fill="#dfdfd0" stroke="#800000" stroke-width="1.8"/>
<text transform="translate(752.60,569.20) scale(0.95,1)" font-size="9.8" fill="#000000" text-anchor="middle">9</text>
<text transform="translate(728.00,569.20) scale(0.95,1)" font-size="9.8" fill="#000000" text-anchor="middle">d5</text>
<rect x="713.00" y="583.00" width="30.00" height="2.00" fill="#004000"/>
<rect x="711.00" y="582.00" width="5.00" height="5.00" fill="#004000"/>
<rect x="743.00" y="583.00" width="36.00" height="2.00" fill="#800000"/>
<circle cx="779" cy="584" r="2.6" fill="#dfdfd0" stroke="#800000" stroke-width="1.8"/>
<text transform="translate(752.60,581.10) scale(0.95,1)" font-size="9.8" fill="#000000" text-anchor="middle">10</text>
<text transform="translate(728.70,581.10) scale(0.95,1)" font-size="9.8" fill="#000000" text-anchor="middle">d18</text>
<text transform="translate(547.40,558.60) scale(0.96,1)" font-size="15.8" fill="#000000" text-anchor="start">SPEAR2</text>
<rect x="548" y="562" width="24" height="94" fill="#c8c8a8" stroke="#800000" stroke-width="2"/>
<rect x="479.00" y="573.00" width="45.00" height="2.00" fill="#004000"/>
<rect x="477.00" y="572.00" width="5.00" height="5.00" fill="#004000"/>
<rect x="524.00" y="573.00" width="36.00" height="2.00" fill="#800000"/>
<circle cx="560" cy="574" r="3.5" fill="#dfdfd0" stroke="#800000" stroke-width="1.8"/>
<text transform="translate(533.40,571.30) scale(0.95,1)" font-size="9.8" fill="#000000" text-anchor="middle">1</text>
<text transform="translate(496.70,571.30) scale(0.95,1)" font-size="9.8" fill="#000000" text-anchor="middle">5nv</text>
<rect x="479.00" y="586.00" width="45.00" height="2.00" fill="#004000"/>
<rect x="477.00" y="585.00" width="5.00" height="5.00" fill="#004000"/>
<rect x="524.00" y="586.00" width="36.00" height="2.00" fill="#800000"/>
<circle cx="560" cy="587" r="3.5" fill="#dfdfd0" stroke="#800000" stroke-width="1.8"/>
<text transform="translate(533.40,583.60) scale(0.95,1)" font-size="9.8" fill="#000000" text-anchor="middle">2</text>
<text transform="translate(503.70,583.60) scale(0.95,1)" font-size="9.8" fill="#000000" text-anchor="middle">cmd</text>
<rect x="479.00" y="597.00" width="45.00" height="2.00" fill="#004000"/>
<rect x="477.00" y="596.00" width="5.00" height="5.00" fill="#004000"/>
<rect x="524.00" y="597.00" width="36.00" height="2.00" fill="#800000"/>
<circle cx="560" cy="598" r="3.5" fill="#dfdfd0" stroke="#800000" stroke-width="1.8"/>
<text transform="translate(533.40,595.40) scale(0.95,1)" font-size="9.8" fill="#000000" text-anchor="middle">3</text>
<text transform="translate(501.30,595.40) scale(0.95,1)" font-size="9.8" fill="#000000" text-anchor="middle">sd3</text>
<rect x="479.00" y="609.00" width="45.00" height="2.00" fill="#004000"/>
<rect x="477.00" y="608.00" width="5.00" height="5.00" fill="#004000"/>
<rect x="524.00" y="609.00" width="36.00" height="2.00" fill="#800000"/>
<circle cx="560" cy="610" r="3.5" fill="#dfdfd0" stroke="#800000" stroke-width="1.8"/>
<text transform="translate(533.40,607.30) scale(0.95,1)" font-size="9.8" fill="#000000" text-anchor="middle">4</text>
<text transform="translate(501.70,607.30) scale(0.95,1)" font-size="9.8" fill="#000000" text-anchor="middle">g13</text>
<rect x="479.00" y="621.00" width="45.00" height="2.00" fill="#004000"/>
<rect x="477.00" y="620.00" width="5.00" height="5.00" fill="#004000"/>
<rect x="524.00" y="621.00" width="36.00" height="2.00" fill="#800000"/>
<circle cx="560" cy="622" r="3.5" fill="#dfdfd0" stroke="#800000" stroke-width="1.8"/>
<text transform="translate(533.40,618.80) scale(0.95,1)" font-size="9.8" fill="#000000" text-anchor="middle">5</text>
<text transform="translate(495.80,618.80) scale(0.95,1)" font-size="9.8" fill="#000000" text-anchor="middle">gnd</text>
<rect x="479.00" y="633.00" width="45.00" height="2.00" fill="#004000"/>
<rect x="477.00" y="632.00" width="5.00" height="5.00" fill="#004000"/>
<rect x="524.00" y="633.00" width="36.00" height="2.00" fill="#800000"/>
<circle cx="560" cy="634" r="3.5" fill="#dfdfd0" stroke="#800000" stroke-width="1.8"/>
<text transform="translate(533.40,630.70) scale(0.95,1)" font-size="9.8" fill="#000000" text-anchor="middle">6</text>
<text transform="translate(495.80,630.70) scale(0.95,1)" font-size="9.8" fill="#000000" text-anchor="middle">g12</text>
<rect x="479.00" y="644.00" width="45.00" height="2.00" fill="#004000"/>
<rect x="477.00" y="643.00" width="5.00" height="5.00" fill="#004000"/>
<rect x="524.00" y="644.00" width="36.00" height="2.00" fill="#800000"/>
<circle cx="560" cy="645" r="3.5" fill="#dfdfd0" stroke="#800000" stroke-width="1.8"/>
<text transform="translate(533.40,642.40) scale(0.95,1)" font-size="9.8" fill="#000000" text-anchor="middle">7</text>
<text transform="translate(507.60,642.40) scale(0.95,1)" font-size="9.8" fill="#000000" text-anchor="middle">g14</text>
<rect x="508.00" y="572.00" width="5.00" height="5.00" fill="#004000"/>
<rect x="508.00" y="585.00" width="5.00" height="5.00" fill="#004000"/>
<rect x="508.00" y="596.00" width="5.00" height="5.00" fill="#004000"/>
<rect x="508.00" y="608.00" width="5.00" height="5.00" fill="#004000"/>
<rect x="508.00" y="620.00" width="5.00" height="5.00" fill="#004000"/>
<rect x="508.00" y="632.00" width="5.00" height="5.00" fill="#004000"/>
<text transform="translate(572.50,669.20) scale(0.96,1)" font-size="15.8" fill="#000000" text-anchor="start">J5</text>
<rect x="573" y="673" width="24" height="107" fill="#c8c8a8" stroke="#800000" stroke-width="2"/>
<rect x="525.00" y="685.00" width="24.00" height="2.00" fill="#004000"/>
<rect x="523.00" y="684.00" width="5.00" height="5.00" fill="#004000"/>
<rect x="549.00" y="685.00" width="36.00" height="2.00" fill="#800000"/>
<circle cx="585" cy="686" r="3.5" fill="#dfdfd0" stroke="#800000" stroke-width="1.8"/>
<text transform="translate(558.30,682.60) scale(0.95,1)" font-size="9.8" fill="#000000" text-anchor="middle">1</text>
<text transform="translate(542.20,682.60) scale(0.95,1)" font-size="9.8" fill="#000000" text-anchor="middle">j5m1</text>
<rect x="525.00" y="697.00" width="24.00" height="2.00" fill="#004000"/>
<rect x="523.00" y="696.00" width="5.00" height="5.00" fill="#004000"/>
<rect x="549.00" y="697.00" width="36.00" height="2.00" fill="#800000"/>
<circle cx="585" cy="698" r="3.5" fill="#dfdfd0" stroke="#800000" stroke-width="1.8"/>
<text transform="translate(558.30,694.60) scale(0.95,1)" font-size="9.8" fill="#000000" text-anchor="middle">2</text>
<text transform="translate(542.20,694.60) scale(0.95,1)" font-size="9.8" fill="#000000" text-anchor="middle">j5m2</text>
<rect x="525.00" y="708.00" width="24.00" height="2.00" fill="#004000"/>
<rect x="523.00" y="707.00" width="5.00" height="5.00" fill="#004000"/>
<rect x="549.00" y="708.00" width="36.00" height="2.00" fill="#800000"/>
<circle cx="585" cy="709" r="3.5" fill="#dfdfd0" stroke="#800000" stroke-width="1.8"/>
<text transform="translate(558.30,705.60) scale(0.95,1)" font-size="9.8" fill="#000000" text-anchor="middle">3</text>
<text transform="translate(541.00,705.60) scale(0.95,1)" font-size="9.8" fill="#000000" text-anchor="middle">g5</text>
<rect x="525.00" y="719.00" width="24.00" height="2.00" fill="#004000"/>
<rect x="523.00" y="718.00" width="5.00" height="5.00" fill="#004000"/>
<rect x="549.00" y="719.00" width="36.00" height="2.00" fill="#800000"/>
<circle cx="585" cy="720" r="3.5" fill="#dfdfd0" stroke="#800000" stroke-width="1.8"/>
<text transform="translate(558.30,717.10) scale(0.95,1)" font-size="9.8" fill="#000000" text-anchor="middle">4</text>
<text transform="translate(542.20,717.10) scale(0.95,1)" font-size="9.8" fill="#000000" text-anchor="middle">g18</text>
<rect x="525.00" y="731.00" width="24.00" height="2.00" fill="#004000"/>
<rect x="523.00" y="730.00" width="5.00" height="5.00" fill="#004000"/>
<rect x="549.00" y="731.00" width="36.00" height="2.00" fill="#800000"/>
<circle cx="585" cy="732" r="3.5" fill="#dfdfd0" stroke="#800000" stroke-width="1.8"/>
<text transform="translate(558.30,729.00) scale(0.95,1)" font-size="9.8" fill="#000000" text-anchor="middle">5</text>
<text transform="translate(543.30,729.00) scale(0.95,1)" font-size="9.8" fill="#000000" text-anchor="middle">lm5</text>
<rect x="525.00" y="743.00" width="24.00" height="2.00" fill="#004000"/>
<rect x="523.00" y="742.00" width="5.00" height="5.00" fill="#004000"/>
<rect x="549.00" y="743.00" width="36.00" height="2.00" fill="#800000"/>
<circle cx="585" cy="744" r="3.5" fill="#dfdfd0" stroke="#800000" stroke-width="1.8"/>
<text transform="translate(558.30,741.20) scale(0.95,1)" font-size="9.8" fill="#000000" text-anchor="middle">6</text>
<text transform="translate(536.40,741.20) scale(0.95,1)" font-size="9.8" fill="#000000" text-anchor="middle">5v</text>
<rect x="525.00" y="755.00" width="24.00" height="2.00" fill="#004000"/>
<rect x="523.00" y="754.00" width="5.00" height="5.00" fill="#004000"/>
<rect x="549.00" y="755.00" width="36.00" height="2.00" fill="#800000"/>
<circle cx="585" cy="756" r="3.5" fill="#dfdfd0" stroke="#800000" stroke-width="1.8"/>
<text transform="translate(558.30,753.20) scale(0.95,1)" font-size="9.8" fill="#000000" text-anchor="middle">7</text>
<text transform="translate(550.20,753.20) scale(0.95,1)" font-size="9.8" fill="#000000" text-anchor="middle">gnd</text>
<rect x="525.00" y="767.00" width="24.00" height="2.00" fill="#004000"/>
<rect x="523.00" y="766.00" width="5.00" height="5.00" fill="#004000"/>
<rect x="549.00" y="767.00" width="36.00" height="2.00" fill="#800000"/>
<circle cx="585" cy="768" r="3.5" fill="#dfdfd0" stroke="#800000" stroke-width="1.8"/>
<text transform="translate(558.30,765.30) scale(0.95,1)" font-size="9.8" fill="#000000" text-anchor="middle">8</text>
<text transform="translate(545.60,765.30) scale(0.95,1)" font-size="9.8" fill="#000000" text-anchor="middle">gnd</text>
<text transform="translate(759.50,665.80) scale(0.96,1)" font-size="15.8" fill="#000000" text-anchor="start">J6</text>
<rect x="760" y="669" width="24" height="106" fill="#c8c8a8" stroke="#800000" stroke-width="2"/>
<rect x="716.00" y="680.00" width="20.00" height="2.00" fill="#004000"/>
<rect x="714.00" y="679.00" width="5.00" height="5.00" fill="#004000"/>
<rect x="736.00" y="680.00" width="36.00" height="2.00" fill="#800000"/>
<circle cx="772" cy="681" r="3.5" fill="#dfdfd0" stroke="#800000" stroke-width="1.8"/>
<text transform="translate(745.50,678.00) scale(0.95,1)" font-size="9.8" fill="#000000" text-anchor="middle">1</text>
<text transform="translate(734.00,678.00) scale(0.95,1)" font-size="9.8" fill="#000000" text-anchor="middle">j6m2</text>
<rect x="716.00" y="692.00" width="20.00" height="2.00" fill="#004000"/>
<rect x="714.00" y="691.00" width="5.00" height="5.00" fill="#004000"/>
<rect x="736.00" y="692.00" width="36.00" height="2.00" fill="#800000"/>
<circle cx="772" cy="693" r="3.5" fill="#dfdfd0" stroke="#800000" stroke-width="1.8"/>
<text transform="translate(745.50,690.20) scale(0.95,1)" font-size="9.8" fill="#000000" text-anchor="middle">2</text>
<text transform="translate(734.00,690.20) scale(0.95,1)" font-size="9.8" fill="#000000" text-anchor="middle">j6m1</text>
<rect x="716.00" y="704.00" width="20.00" height="2.00" fill="#004000"/>
<rect x="714.00" y="703.00" width="5.00" height="5.00" fill="#004000"/>
<rect x="736.00" y="704.00" width="36.00" height="2.00" fill="#800000"/>
<circle cx="772" cy="705" r="3.5" fill="#dfdfd0" stroke="#800000" stroke-width="1.8"/>
<text transform="translate(745.50,702.10) scale(0.95,1)" font-size="9.8" fill="#000000" text-anchor="middle">3</text>
<text transform="translate(736.30,702.10) scale(0.95,1)" font-size="9.8" fill="#000000" text-anchor="middle">g21</text>
<rect x="718.00" y="716.00" width="18.00" height="2.00" fill="#004000"/>
<rect x="716.00" y="715.00" width="5.00" height="5.00" fill="#004000"/>
<rect x="736.00" y="716.00" width="36.00" height="2.00" fill="#800000"/>
<circle cx="772" cy="717" r="3.5" fill="#dfdfd0" stroke="#800000" stroke-width="1.8"/>
<text transform="translate(745.50,714.30) scale(0.95,1)" font-size="9.8" fill="#000000" text-anchor="middle">4</text>
<text transform="translate(732.40,714.30) scale(0.95,1)" font-size="9.8" fill="#000000" text-anchor="middle">g22</text>
<rect x="715.00" y="728.00" width="21.00" height="2.00" fill="#004000"/>
<rect x="713.00" y="727.00" width="5.00" height="5.00" fill="#004000"/>
<rect x="736.00" y="728.00" width="36.00" height="2.00" fill="#800000"/>
<circle cx="772" cy="729" r="3.5" fill="#dfdfd0" stroke="#800000" stroke-width="1.8"/>
<text transform="translate(745.50,726.30) scale(0.95,1)" font-size="9.8" fill="#000000" text-anchor="middle">5</text>
<text transform="translate(736.30,726.30) scale(0.95,1)" font-size="9.8" fill="#000000" text-anchor="middle">lm6</text>
<rect x="716.00" y="740.00" width="20.00" height="2.00" fill="#004000"/>
<rect x="714.00" y="739.00" width="5.00" height="5.00" fill="#004000"/>
<rect x="736.00" y="740.00" width="36.00" height="2.00" fill="#800000"/>
<circle cx="772" cy="741" r="3.5" fill="#dfdfd0" stroke="#800000" stroke-width="1.8"/>
<text transform="translate(745.50,738.20) scale(0.95,1)" font-size="9.8" fill="#000000" text-anchor="middle">6</text>
<text transform="translate(730.60,738.20) scale(0.95,1)" font-size="9.8" fill="#000000" text-anchor="middle">5v</text>
<rect x="716.00" y="752.00" width="20.00" height="2.00" fill="#004000"/>
<rect x="714.00" y="751.00" width="5.00" height="5.00" fill="#004000"/>
<rect x="736.00" y="752.00" width="36.00" height="2.00" fill="#800000"/>
<circle cx="772" cy="753" r="3.5" fill="#dfdfd0" stroke="#800000" stroke-width="1.8"/>
<text transform="translate(745.50,750.40) scale(0.95,1)" font-size="9.8" fill="#000000" text-anchor="middle">7</text>
<text transform="translate(733.30,750.40) scale(0.95,1)" font-size="9.8" fill="#000000" text-anchor="middle">gnd</text>
<rect x="716.00" y="763.00" width="20.00" height="2.00" fill="#004000"/>
<rect x="714.00" y="762.00" width="5.00" height="5.00" fill="#004000"/>
<rect x="736.00" y="763.00" width="36.00" height="2.00" fill="#800000"/>
<circle cx="772" cy="764" r="3.5" fill="#dfdfd0" stroke="#800000" stroke-width="1.8"/>
<text transform="translate(745.50,761.20) scale(0.95,1)" font-size="9.8" fill="#000000" text-anchor="middle">8</text>
<text transform="translate(738.60,761.20) scale(0.95,1)" font-size="9.8" fill="#000000" text-anchor="middle">gnd</text>
<text transform="translate(977.30,179.80) scale(0.96,1)" font-size="15.8" fill="#000000" text-anchor="start">J1</text>
<rect x="950.5" y="179.5" width="55" height="115" fill="#e9c6b8" fill-opacity="0.5" stroke="#d8b8b0" stroke-width="1" stroke-dasharray="2,2"/>
<rect x="977" y="183" width="24" height="107" fill="#d2c0a6" stroke="#800000" stroke-width="2"/>
<rect x="930.00" y="193.00" width="23.00" height="2.00" fill="#004000"/>
<rect x="928.00" y="192.00" width="5.00" height="5.00" fill="#004000"/>
<rect x="953.00" y="193.00" width="36.00" height="2.00" fill="#800000"/>
<circle cx="989" cy="194" r="3.5" fill="#dfdfd0" stroke="#800000" stroke-width="1.8"/>
<text transform="translate(963.30,191.20) scale(0.95,1)" font-size="9.8" fill="#000000" text-anchor="middle">1</text>
<text transform="translate(951.90,191.20) scale(0.95,1)" font-size="9.8" fill="#000000" text-anchor="middle">j1m1</text>
<rect x="930.00" y="205.00" width="23.00" height="2.00" fill="#004000"/>
<rect x="928.00" y="204.00" width="5.00" height="5.00" fill="#004000"/>
<rect x="953.00" y="205.00" width="36.00" height="2.00" fill="#800000"/>
<circle cx="989" cy="206" r="3.5" fill="#dfdfd0" stroke="#800000" stroke-width="1.8"/>
<text transform="translate(963.30,203.10) scale(0.95,1)" font-size="9.8" fill="#000000" text-anchor="middle">2</text>
<text transform="translate(951.90,203.10) scale(0.95,1)" font-size="9.8" fill="#000000" text-anchor="middle">j1m2</text>
<rect x="930.00" y="217.00" width="23.00" height="2.00" fill="#004000"/>
<rect x="928.00" y="216.00" width="5.00" height="5.00" fill="#004000"/>
<rect x="953.00" y="217.00" width="36.00" height="2.00" fill="#800000"/>
<circle cx="989" cy="218" r="3.5" fill="#dfdfd0" stroke="#800000" stroke-width="1.8"/>
<text transform="translate(963.30,215.20) scale(0.95,1)" font-size="9.8" fill="#000000" text-anchor="middle">3</text>
<text transform="translate(949.60,215.20) scale(0.95,1)" font-size="9.8" fill="#000000" text-anchor="middle">d15</text>
<rect x="930.00" y="229.00" width="23.00" height="2.00" fill="#004000"/>
<rect x="928.00" y="228.00" width="5.00" height="5.00" fill="#004000"/>
<rect x="953.00" y="229.00" width="36.00" height="2.00" fill="#800000"/>
<circle cx="989" cy="230" r="3.5" fill="#dfdfd0" stroke="#800000" stroke-width="1.8"/>
<text transform="translate(963.30,227.20) scale(0.95,1)" font-size="9.8" fill="#000000" text-anchor="middle">4</text>
<text transform="translate(940.50,227.20) scale(0.95,1)" font-size="9.8" fill="#000000" text-anchor="middle">d2</text>
<rect x="930.00" y="241.00" width="23.00" height="2.00" fill="#004000"/>
<rect x="928.00" y="240.00" width="5.00" height="5.00" fill="#004000"/>
<rect x="953.00" y="241.00" width="36.00" height="2.00" fill="#800000"/>
<circle cx="989" cy="242" r="3.5" fill="#dfdfd0" stroke="#800000" stroke-width="1.8"/>
<text transform="translate(963.30,239.40) scale(0.95,1)" font-size="9.8" fill="#000000" text-anchor="middle">5</text>
<text transform="translate(942.80,239.40) scale(0.95,1)" font-size="9.8" fill="#000000" text-anchor="middle">lm1</text>
<rect x="930.00" y="253.00" width="23.00" height="2.00" fill="#004000"/>
<rect x="928.00" y="252.00" width="5.00" height="5.00" fill="#004000"/>
<rect x="953.00" y="253.00" width="36.00" height="2.00" fill="#800000"/>
<circle cx="989" cy="254" r="3.5" fill="#dfdfd0" stroke="#800000" stroke-width="1.8"/>
<text transform="translate(963.30,251.20) scale(0.95,1)" font-size="9.8" fill="#000000" text-anchor="middle">6</text>
<text transform="translate(946.60,251.20) scale(0.95,1)" font-size="9.8" fill="#000000" text-anchor="middle">5v</text>
<rect x="930.00" y="265.00" width="23.00" height="2.00" fill="#004000"/>
<rect x="928.00" y="264.00" width="5.00" height="5.00" fill="#004000"/>
<rect x="953.00" y="265.00" width="36.00" height="2.00" fill="#800000"/>
<circle cx="989" cy="266" r="3.5" fill="#dfdfd0" stroke="#800000" stroke-width="1.8"/>
<text transform="translate(963.30,263.40) scale(0.95,1)" font-size="9.8" fill="#000000" text-anchor="middle">7</text>
<text transform="translate(955.00,263.40) scale(0.95,1)" font-size="9.8" fill="#000000" text-anchor="middle">gnd</text>
<rect x="930.00" y="277.00" width="23.00" height="2.00" fill="#004000"/>
<rect x="928.00" y="276.00" width="5.00" height="5.00" fill="#004000"/>
<rect x="953.00" y="277.00" width="36.00" height="2.00" fill="#800000"/>
<circle cx="989" cy="278" r="3.5" fill="#dfdfd0" stroke="#800000" stroke-width="1.8"/>
<text transform="translate(963.30,275.20) scale(0.95,1)" font-size="9.8" fill="#000000" text-anchor="middle">8</text>
<text transform="translate(949.60,275.20) scale(0.95,1)" font-size="9.8" fill="#000000" text-anchor="middle">gnd</text>
<text transform="translate(978.50,333.60) scale(0.96,1)" font-size="15.8" fill="#000000" text-anchor="start">J2</text>
<rect x="979" y="337" width="23" height="107" fill="#c8c8a8" stroke="#800000" stroke-width="2"/>
<rect x="929.00" y="348.00" width="25.00" height="2.00" fill="#004000"/>
<rect x="927.00" y="347.00" width="5.00" height="5.00" fill="#004000"/>
<rect x="954.00" y="348.00" width="37.00" height="2.00" fill="#800000"/>
<circle cx="991" cy="349" r="3.5" fill="#dfdfd0" stroke="#800000" stroke-width="1.8"/>
<text transform="translate(964.40,346.20) scale(0.95,1)" font-size="9.8" fill="#000000" text-anchor="middle">1</text>
<text transform="translate(951.90,346.20) scale(0.95,1)" font-size="9.8" fill="#000000" text-anchor="middle">j2m2</text>
<rect x="929.00" y="360.00" width="25.00" height="2.00" fill="#004000"/>
<rect x="927.00" y="359.00" width="5.00" height="5.00" fill="#004000"/>
<rect x="954.00" y="360.00" width="37.00" height="2.00" fill="#800000"/>
<circle cx="991" cy="361" r="3.5" fill="#dfdfd0" stroke="#800000" stroke-width="1.8"/>
<text transform="translate(964.40,358.20) scale(0.95,1)" font-size="9.8" fill="#000000" text-anchor="middle">2</text>
<text transform="translate(951.90,358.20) scale(0.95,1)" font-size="9.8" fill="#000000" text-anchor="middle">j2m1</text>
<rect x="929.00" y="372.00" width="25.00" height="2.00" fill="#004000"/>
<rect x="927.00" y="371.00" width="5.00" height="5.00" fill="#004000"/>
<rect x="954.00" y="372.00" width="37.00" height="2.00" fill="#800000"/>
<circle cx="991" cy="373" r="3.5" fill="#dfdfd0" stroke="#800000" stroke-width="1.8"/>
<text transform="translate(964.40,370.10) scale(0.95,1)" font-size="9.8" fill="#000000" text-anchor="middle">3</text>
<text transform="translate(949.60,370.10) scale(0.95,1)" font-size="9.8" fill="#000000" text-anchor="middle">d34</text>
<rect x="929.00" y="384.00" width="25.00" height="2.00" fill="#004000"/>
<rect x="927.00" y="383.00" width="5.00" height="5.00" fill="#004000"/>
<rect x="954.00" y="384.00" width="37.00" height="2.00" fill="#800000"/>
<circle cx="991" cy="385" r="3.5" fill="#dfdfd0" stroke="#800000" stroke-width="1.8"/>
<text transform="translate(964.40,381.90) scale(0.95,1)" font-size="9.8" fill="#000000" text-anchor="middle">4</text>
<text transform="translate(949.60,381.90) scale(0.95,1)" font-size="9.8" fill="#000000" text-anchor="middle">d35</text>
<rect x="929.00" y="396.00" width="25.00" height="2.00" fill="#004000"/>
<rect x="927.00" y="395.00" width="5.00" height="5.00" fill="#004000"/>
<rect x="954.00" y="396.00" width="37.00" height="2.00" fill="#800000"/>
<circle cx="991" cy="397" r="3.5" fill="#dfdfd0" stroke="#800000" stroke-width="1.8"/>
<text transform="translate(964.40,394.10) scale(0.95,1)" font-size="9.8" fill="#000000" text-anchor="middle">5</text>
<text transform="translate(943.60,394.10) scale(0.95,1)" font-size="9.8" fill="#000000" text-anchor="middle">lm2</text>
<rect x="929.00" y="408.00" width="25.00" height="2.00" fill="#004000"/>
<rect x="927.00" y="407.00" width="5.00" height="5.00" fill="#004000"/>
<rect x="954.00" y="408.00" width="37.00" height="2.00" fill="#800000"/>
<circle cx="991" cy="409" r="3.5" fill="#dfdfd0" stroke="#800000" stroke-width="1.8"/>
<text transform="translate(964.40,406.10) scale(0.95,1)" font-size="9.8" fill="#000000" text-anchor="middle">6</text>
<text transform="translate(952.70,406.10) scale(0.95,1)" font-size="9.8" fill="#000000" text-anchor="middle">5v</text>
<rect x="929.00" y="420.00" width="25.00" height="2.00" fill="#004000"/>
<rect x="927.00" y="419.00" width="5.00" height="5.00" fill="#004000"/>
<rect x="954.00" y="420.00" width="37.00" height="2.00" fill="#800000"/>
<circle cx="991" cy="421" r="3.5" fill="#dfdfd0" stroke="#800000" stroke-width="1.8"/>
<text transform="translate(964.40,418.40) scale(0.95,1)" font-size="9.8" fill="#000000" text-anchor="middle">7</text>
<text transform="translate(949.60,418.40) scale(0.95,1)" font-size="9.8" fill="#000000" text-anchor="middle">gnd</text>
<rect x="929.00" y="431.00" width="25.00" height="2.00" fill="#004000"/>
<rect x="927.00" y="430.00" width="5.00" height="5.00" fill="#004000"/>
<rect x="954.00" y="431.00" width="37.00" height="2.00" fill="#800000"/>
<circle cx="991" cy="432" r="3.5" fill="#dfdfd0" stroke="#800000" stroke-width="1.8"/>
<text transform="translate(964.40,429.00) scale(0.95,1)" font-size="9.8" fill="#000000" text-anchor="middle">8</text>
<text transform="translate(949.60,429.00) scale(0.95,1)" font-size="9.8" fill="#000000" text-anchor="middle">gnd</text>
<text transform="translate(982.50,506.80) scale(0.96,1)" font-size="15.8" fill="#000000" text-anchor="start">J3</text>
<rect x="983" y="511" width="24" height="107" fill="#c8c8a8" stroke="#800000" stroke-width="2"/>
<rect x="929.00" y="522.00" width="31.00" height="2.00" fill="#004000"/>
<rect x="927.00" y="521.00" width="5.00" height="5.00" fill="#004000"/>
<rect x="960.00" y="522.00" width="35.00" height="2.00" fill="#800000"/>
<circle cx="995" cy="523" r="3.5" fill="#dfdfd0" stroke="#800000" stroke-width="1.8"/>
<text transform="translate(969.40,520.00) scale(0.95,1)" font-size="9.8" fill="#000000" text-anchor="middle">1</text>
<text transform="translate(951.90,520.00) scale(0.95,1)" font-size="9.8" fill="#000000" text-anchor="middle">j3m1</text>
<rect x="929.00" y="534.00" width="31.00" height="2.00" fill="#004000"/>
<rect x="927.00" y="533.00" width="5.00" height="5.00" fill="#004000"/>
<rect x="960.00" y="534.00" width="35.00" height="2.00" fill="#800000"/>
<circle cx="995" cy="535" r="3.5" fill="#dfdfd0" stroke="#800000" stroke-width="1.8"/>
<text transform="translate(969.40,532.20) scale(0.95,1)" font-size="9.8" fill="#000000" text-anchor="middle">2</text>
<text transform="translate(951.90,532.20) scale(0.95,1)" font-size="9.8" fill="#000000" text-anchor="middle">j3m2</text>
<rect x="929.00" y="546.00" width="31.00" height="2.00" fill="#004000"/>
<rect x="927.00" y="545.00" width="5.00" height="5.00" fill="#004000"/>
<rect x="960.00" y="546.00" width="35.00" height="2.00" fill="#800000"/>
<circle cx="995" cy="547" r="3.5" fill="#dfdfd0" stroke="#800000" stroke-width="1.8"/>
<text transform="translate(969.40,544.00) scale(0.95,1)" font-size="9.8" fill="#000000" text-anchor="middle">3</text>
<text transform="translate(945.80,544.00) scale(0.95,1)" font-size="9.8" fill="#000000" text-anchor="middle">d13</text>
<rect x="929.00" y="558.00" width="31.00" height="2.00" fill="#004000"/>
<rect x="927.00" y="557.00" width="5.00" height="5.00" fill="#004000"/>
<rect x="960.00" y="558.00" width="35.00" height="2.00" fill="#800000"/>
<circle cx="995" cy="559" r="3.5" fill="#dfdfd0" stroke="#800000" stroke-width="1.8"/>
<text transform="translate(969.40,556.20) scale(0.95,1)" font-size="9.8" fill="#000000" text-anchor="middle">4</text>
<text transform="translate(944.30,556.20) scale(0.95,1)" font-size="9.8" fill="#000000" text-anchor="middle">d27</text>
<rect x="929.00" y="569.00" width="31.00" height="2.00" fill="#004000"/>
<rect x="927.00" y="568.00" width="5.00" height="5.00" fill="#004000"/>
<rect x="960.00" y="569.00" width="35.00" height="2.00" fill="#800000"/>
<circle cx="995" cy="570" r="3.5" fill="#dfdfd0" stroke="#800000" stroke-width="1.8"/>
<text transform="translate(969.40,566.80) scale(0.95,1)" font-size="9.8" fill="#000000" text-anchor="middle">5</text>
<text transform="translate(946.60,566.80) scale(0.95,1)" font-size="9.8" fill="#000000" text-anchor="middle">lm3</text>
<rect x="929.00" y="581.00" width="31.00" height="2.00" fill="#004000"/>
<rect x="927.00" y="580.00" width="5.00" height="5.00" fill="#004000"/>
<rect x="960.00" y="581.00" width="35.00" height="2.00" fill="#800000"/>
<circle cx="995" cy="582" r="3.5" fill="#dfdfd0" stroke="#800000" stroke-width="1.8"/>
<text transform="translate(969.40,579.00) scale(0.95,1)" font-size="9.8" fill="#000000" text-anchor="middle">6</text>
<text transform="translate(940.50,579.00) scale(0.95,1)" font-size="9.8" fill="#000000" text-anchor="middle">5v</text>
<rect x="929.00" y="593.00" width="31.00" height="2.00" fill="#004000"/>
<rect x="927.00" y="592.00" width="5.00" height="5.00" fill="#004000"/>
<rect x="960.00" y="593.00" width="35.00" height="2.00" fill="#800000"/>
<circle cx="995" cy="594" r="3.5" fill="#dfdfd0" stroke="#800000" stroke-width="1.8"/>
<text transform="translate(969.40,591.10) scale(0.95,1)" font-size="9.8" fill="#000000" text-anchor="middle">7</text>
<text transform="translate(949.60,591.10) scale(0.95,1)" font-size="9.8" fill="#000000" text-anchor="middle">gnd</text>
<rect x="929.00" y="605.00" width="31.00" height="2.00" fill="#004000"/>
<rect x="927.00" y="604.00" width="5.00" height="5.00" fill="#004000"/>
<rect x="960.00" y="605.00" width="35.00" height="2.00" fill="#800000"/>
<circle cx="995" cy="606" r="3.5" fill="#dfdfd0" stroke="#800000" stroke-width="1.8"/>
<text transform="translate(969.40,603.10) scale(0.95,1)" font-size="9.8" fill="#000000" text-anchor="middle">8</text>
<text transform="translate(943.60,603.10) scale(0.95,1)" font-size="9.8" fill="#000000" text-anchor="middle">gnd</text>
<text transform="translate(987.30,676.30) scale(0.96,1)" font-size="15.8" fill="#000000" text-anchor="start">J4</text>
<rect x="988" y="680" width="24" height="107" fill="#c8c8a8" stroke="#800000" stroke-width="2"/>
<rect x="947.00" y="691.00" width="16.00" height="2.00" fill="#004000"/>
<rect x="945.00" y="690.00" width="5.00" height="5.00" fill="#004000"/>
<rect x="963.00" y="691.00" width="37.00" height="2.00" fill="#800000"/>
<circle cx="1000" cy="692" r="3.5" fill="#dfdfd0" stroke="#800000" stroke-width="1.8"/>
<text transform="translate(973.30,689.20) scale(0.95,1)" font-size="9.8" fill="#000000" text-anchor="middle">1</text>
<text transform="translate(961.90,689.20) scale(0.95,1)" font-size="9.8" fill="#000000" text-anchor="middle">j4m1</text>
<rect x="947.00" y="703.00" width="16.00" height="2.00" fill="#004000"/>
<rect x="945.00" y="702.00" width="5.00" height="5.00" fill="#004000"/>
<rect x="963.00" y="703.00" width="37.00" height="2.00" fill="#800000"/>
<circle cx="1000" cy="704" r="3.5" fill="#dfdfd0" stroke="#800000" stroke-width="1.8"/>
<text transform="translate(973.30,700.90) scale(0.95,1)" font-size="9.8" fill="#000000" text-anchor="middle">2</text>
<text transform="translate(961.90,700.90) scale(0.95,1)" font-size="9.8" fill="#000000" text-anchor="middle">j4m2</text>
<rect x="947.00" y="715.00" width="16.00" height="2.00" fill="#004000"/>
<rect x="945.00" y="714.00" width="5.00" height="5.00" fill="#004000"/>
<rect x="963.00" y="715.00" width="37.00" height="2.00" fill="#800000"/>
<circle cx="1000" cy="716" r="3.5" fill="#dfdfd0" stroke="#800000" stroke-width="1.8"/>
<text transform="translate(973.30,713.20) scale(0.95,1)" font-size="9.8" fill="#000000" text-anchor="middle">3</text>
<text transform="translate(959.60,713.20) scale(0.95,1)" font-size="9.8" fill="#000000" text-anchor="middle">g25</text>
<rect x="947.00" y="727.00" width="16.00" height="2.00" fill="#004000"/>
<rect x="945.00" y="726.00" width="5.00" height="5.00" fill="#004000"/>
<rect x="963.00" y="727.00" width="37.00" height="2.00" fill="#800000"/>
<circle cx="1000" cy="728" r="3.5" fill="#dfdfd0" stroke="#800000" stroke-width="1.8"/>
<text transform="translate(973.30,725.30) scale(0.95,1)" font-size="9.8" fill="#000000" text-anchor="middle">4</text>
<text transform="translate(959.60,725.30) scale(0.95,1)" font-size="9.8" fill="#000000" text-anchor="middle">g33</text>
<rect x="947.00" y="738.00" width="16.00" height="2.00" fill="#004000"/>
<rect x="945.00" y="737.00" width="5.00" height="5.00" fill="#004000"/>
<rect x="963.00" y="738.00" width="37.00" height="2.00" fill="#800000"/>
<circle cx="1000" cy="739" r="3.5" fill="#dfdfd0" stroke="#800000" stroke-width="1.8"/>
<text transform="translate(973.30,735.90) scale(0.95,1)" font-size="9.8" fill="#000000" text-anchor="middle">5</text>
<text transform="translate(959.60,735.90) scale(0.95,1)" font-size="9.8" fill="#000000" text-anchor="middle">lm4</text>
<rect x="947.00" y="750.00" width="16.00" height="2.00" fill="#004000"/>
<rect x="945.00" y="749.00" width="5.00" height="5.00" fill="#004000"/>
<rect x="963.00" y="750.00" width="37.00" height="2.00" fill="#800000"/>
<circle cx="1000" cy="751" r="3.5" fill="#dfdfd0" stroke="#800000" stroke-width="1.8"/>
<text transform="translate(973.30,748.00) scale(0.95,1)" font-size="9.8" fill="#000000" text-anchor="middle">6</text>
<text transform="translate(958.10,748.00) scale(0.95,1)" font-size="9.8" fill="#000000" text-anchor="middle">5v</text>
<rect x="947.00" y="762.00" width="16.00" height="2.00" fill="#004000"/>
<rect x="945.00" y="761.00" width="5.00" height="5.00" fill="#004000"/>
<rect x="963.00" y="762.00" width="37.00" height="2.00" fill="#800000"/>
<circle cx="1000" cy="763" r="3.5" fill="#dfdfd0" stroke="#800000" stroke-width="1.8"/>
<text transform="translate(973.30,760.20) scale(0.95,1)" font-size="9.8" fill="#000000" text-anchor="middle">7</text>
<text transform="translate(959.60,760.20) scale(0.95,1)" font-size="9.8" fill="#000000" text-anchor="middle">gnd</text>
<rect x="947.00" y="774.00" width="16.00" height="2.00" fill="#004000"/>
<rect x="945.00" y="773.00" width="5.00" height="5.00" fill="#004000"/>
<rect x="963.00" y="774.00" width="37.00" height="2.00" fill="#800000"/>
<circle cx="1000" cy="775" r="3.5" fill="#dfdfd0" stroke="#800000" stroke-width="1.8"/>
<text transform="translate(973.30,772.10) scale(0.95,1)" font-size="9.8" fill="#000000" text-anchor="middle">8</text>
<text transform="translate(959.60,772.10) scale(0.95,1)" font-size="9.8" fill="#000000" text-anchor="middle">gnd</text>
<text transform="translate(1112.50,234.30) scale(0.96,1)" font-size="15.8" fill="#000000" text-anchor="start">R1</text>
<rect x="1084.00" y="242.00" width="16.00" height="2.00" fill="#004000"/>
<rect x="1082.00" y="241.00" width="5.00" height="5.00" fill="#004000"/>
<rect x="1100.00" y="242.00" width="12.00" height="2.00" fill="#800000"/>
<rect x="1150.00" y="242.00" width="12.00" height="2.00" fill="#800000"/>
<rect x="1162.00" y="242.00" width="30.00" height="2.00" fill="#004000"/>
<rect x="1190.00" y="241.00" width="5.00" height="5.00" fill="#004000"/>
<rect x="1113" y="238" width="36" height="10" fill="#c8c8a8" stroke="#800000" stroke-width="2"/>
<text transform="translate(1097.00,240.00) scale(0.95,1)" font-size="9.8" fill="#000000" text-anchor="middle">lm1</text>
<text transform="translate(1187.30,240.00) scale(0.95,1)" font-size="9.8" fill="#000000" text-anchor="middle">3v3</text>
<text transform="translate(1112.50,306.30) scale(0.96,1)" font-size="15.8" fill="#000000" text-anchor="start">R2</text>
<rect x="1078.00" y="314.00" width="22.00" height="2.00" fill="#004000"/>
<rect x="1076.00" y="313.00" width="5.00" height="5.00" fill="#004000"/>
<rect x="1100.00" y="314.00" width="12.00" height="2.00" fill="#800000"/>
<rect x="1150.00" y="314.00" width="12.00" height="2.00" fill="#800000"/>
<rect x="1162.00" y="314.00" width="30.00" height="2.00" fill="#004000"/>
<rect x="1190.00" y="313.00" width="5.00" height="5.00" fill="#004000"/>
<rect x="1113" y="310" width="36" height="9" fill="#c8c8a8" stroke="#800000" stroke-width="2"/>
<text transform="translate(1097.00,312.00) scale(0.95,1)" font-size="9.8" fill="#000000" text-anchor="middle">lm2</text>
<text transform="translate(1187.30,312.00) scale(0.95,1)" font-size="9.8" fill="#000000" text-anchor="middle">3v3</text>
<text transform="translate(1118.50,377.30) scale(0.96,1)" font-size="15.8" fill="#000000" text-anchor="start">R3</text>
<rect x="1084.00" y="385.00" width="22.00" height="2.00" fill="#004000"/>
<rect x="1082.00" y="384.00" width="5.00" height="5.00" fill="#004000"/>
<rect x="1106.00" y="385.00" width="12.00" height="2.00" fill="#800000"/>
<rect x="1156.00" y="385.00" width="12.00" height="2.00" fill="#800000"/>
<rect x="1168.00" y="385.00" width="29.00" height="2.00" fill="#004000"/>
<rect x="1195.00" y="384.00" width="5.00" height="5.00" fill="#004000"/>
<rect x="1119" y="381" width="36" height="10" fill="#c8c8a8" stroke="#800000" stroke-width="2"/>
<text transform="translate(1103.30,383.30) scale(0.95,1)" font-size="9.8" fill="#000000" text-anchor="middle">lm3</text>
<text transform="translate(1187.30,383.30) scale(0.95,1)" font-size="9.8" fill="#000000" text-anchor="middle">3v3</text>
<text transform="translate(1118.50,461.90) scale(0.96,1)" font-size="15.8" fill="#000000" text-anchor="start">R4</text>
<rect x="1090.00" y="469.00" width="16.00" height="2.00" fill="#004000"/>
<rect x="1088.00" y="468.00" width="5.00" height="5.00" fill="#004000"/>
<rect x="1106.00" y="469.00" width="12.00" height="2.00" fill="#800000"/>
<rect x="1156.00" y="469.00" width="12.00" height="2.00" fill="#800000"/>
<rect x="1168.00" y="469.00" width="24.00" height="2.00" fill="#004000"/>
<rect x="1190.00" y="468.00" width="5.00" height="5.00" fill="#004000"/>
<rect x="1119" y="466" width="36" height="8" fill="#c8c8a8" stroke="#800000" stroke-width="2"/>
<text transform="translate(1103.30,466.50) scale(0.95,1)" font-size="9.8" fill="#000000" text-anchor="middle">lm4</text>
<text transform="translate(1187.30,466.50) scale(0.95,1)" font-size="9.8" fill="#000000" text-anchor="middle">3v3</text>
<text transform="translate(1118.50,538.60) scale(0.96,1)" font-size="15.8" fill="#000000" text-anchor="start">R5</text>
<rect x="1084.00" y="546.00" width="22.00" height="2.00" fill="#004000"/>
<rect x="1082.00" y="545.00" width="5.00" height="5.00" fill="#004000"/>
<rect x="1106.00" y="546.00" width="12.00" height="2.00" fill="#800000"/>
<rect x="1156.00" y="546.00" width="12.00" height="2.00" fill="#800000"/>
<rect x="1168.00" y="546.00" width="24.00" height="2.00" fill="#004000"/>
<rect x="1190.00" y="545.00" width="5.00" height="5.00" fill="#004000"/>
<rect x="1119" y="542" width="36" height="9" fill="#c8c8a8" stroke="#800000" stroke-width="2"/>
<text transform="translate(1097.00,544.00) scale(0.95,1)" font-size="9.8" fill="#000000" text-anchor="middle">lm5</text>
<text transform="translate(1187.30,544.00) scale(0.95,1)" font-size="9.8" fill="#000000" text-anchor="middle">3v3</text>
<text transform="translate(1118.50,609.00) scale(0.96,1)" font-size="15.8" fill="#000000" text-anchor="start">R6</text>
<rect x="1084.00" y="617.00" width="22.00" height="2.00" fill="#004000"/>
<rect x="1082.00" y="616.00" width="5.00" height="5.00" fill="#004000"/>
<rect x="1106.00" y="617.00" width="12.00" height="2.00" fill="#800000"/>
<rect x="1156.00" y="617.00" width="12.00" height="2.00" fill="#800000"/>
<rect x="1168.00" y="617.00" width="18.00" height="2.00" fill="#004000"/>
<rect x="1184.00" y="616.00" width="5.00" height="5.00" fill="#004000"/>
<rect x="1119" y="613" width="36" height="10" fill="#c8c8a8" stroke="#800000" stroke-width="2"/>
<text transform="translate(1097.00,615.20) scale(0.95,1)" font-size="9.8" fill="#000000" text-anchor="middle">lm6</text>
<text transform="translate(1187.30,615.20) scale(0.95,1)" font-size="9.8" fill="#000000" text-anchor="middle">3v3</text>
<text transform="translate(1130.50,688.40) scale(0.96,1)" font-size="15.8" fill="#000000" text-anchor="start">SEROV</text>
<rect x="1131" y="692" width="24" height="47" fill="#c8c8a8" stroke="#800000" stroke-width="2"/>
<rect x="1077.00" y="703.00" width="29.00" height="2.00" fill="#004000"/>
<rect x="1075.00" y="702.00" width="5.00" height="5.00" fill="#004000"/>
<rect x="1106.00" y="703.00" width="37.00" height="2.00" fill="#800000"/>
<circle cx="1143" cy="704" r="3.5" fill="#dfdfd0" stroke="#800000" stroke-width="1.8"/>
<text transform="translate(1116.80,701.20) scale(0.95,1)" font-size="9.8" fill="#000000" text-anchor="middle">1</text>
<text transform="translate(1088.50,701.20) scale(0.95,1)" font-size="9.8" fill="#000000" text-anchor="middle">5v</text>
<rect x="1077.00" y="715.00" width="29.00" height="2.00" fill="#004000"/>
<rect x="1075.00" y="714.00" width="5.00" height="5.00" fill="#004000"/>
<rect x="1106.00" y="715.00" width="37.00" height="2.00" fill="#800000"/>
<circle cx="1143" cy="716" r="3.5" fill="#dfdfd0" stroke="#800000" stroke-width="1.8"/>
<text transform="translate(1116.80,713.30) scale(0.95,1)" font-size="9.8" fill="#000000" text-anchor="middle">2</text>
<text transform="translate(1091.50,713.30) scale(0.95,1)" font-size="9.8" fill="#000000" text-anchor="middle">gnd</text>
<rect x="1077.00" y="727.00" width="29.00" height="2.00" fill="#004000"/>
<rect x="1075.00" y="726.00" width="5.00" height="5.00" fill="#004000"/>
<rect x="1106.00" y="727.00" width="37.00" height="2.00" fill="#800000"/>
<circle cx="1143" cy="728" r="3.5" fill="#dfdfd0" stroke="#800000" stroke-width="1.8"/>
<text transform="translate(1116.80,725.20) scale(0.95,1)" font-size="9.8" fill="#000000" text-anchor="middle">3</text>
<text transform="translate(1095.70,725.20) scale(0.95,1)" font-size="9.8" fill="#000000" text-anchor="middle">d23</text>
<text transform="translate(1135.90,803.60) scale(0.96,1)" font-size="15.8" fill="#000000" text-anchor="start">SPEAR</text>
<rect x="1136" y="807" width="24" height="72" fill="#c8c8a8" stroke="#800000" stroke-width="2"/>
<rect x="1060.00" y="818.00" width="52.00" height="2.00" fill="#004000"/>
<rect x="1058.00" y="817.00" width="5.00" height="5.00" fill="#004000"/>
<rect x="1112.00" y="818.00" width="36.00" height="2.00" fill="#800000"/>
<circle cx="1148" cy="819" r="3.5" fill="#dfdfd0" stroke="#800000" stroke-width="1.8"/>
<text transform="translate(1121.80,816.30) scale(0.95,1)" font-size="9.8" fill="#000000" text-anchor="middle">1</text>
<text transform="translate(1081.80,816.30) scale(0.95,1)" font-size="9.8" fill="#000000" text-anchor="middle">d22</text>
<rect x="1062.00" y="830.00" width="50.00" height="2.00" fill="#004000"/>
<rect x="1060.00" y="829.00" width="5.00" height="5.00" fill="#004000"/>
<rect x="1112.00" y="830.00" width="36.00" height="2.00" fill="#800000"/>
<circle cx="1148" cy="831" r="3.5" fill="#dfdfd0" stroke="#800000" stroke-width="1.8"/>
<text transform="translate(1121.80,828.30) scale(0.95,1)" font-size="9.8" fill="#000000" text-anchor="middle">2</text>
<text transform="translate(1079.30,828.30) scale(0.95,1)" font-size="9.8" fill="#000000" text-anchor="middle">d21</text>
<rect x="1062.00" y="842.00" width="50.00" height="2.00" fill="#004000"/>
<rect x="1060.00" y="841.00" width="5.00" height="5.00" fill="#004000"/>
<rect x="1112.00" y="842.00" width="36.00" height="2.00" fill="#800000"/>
<circle cx="1148" cy="843" r="3.5" fill="#dfdfd0" stroke="#800000" stroke-width="1.8"/>
<text transform="translate(1121.80,840.40) scale(0.95,1)" font-size="9.8" fill="#000000" text-anchor="middle">3</text>
<text transform="translate(1082.50,840.40) scale(0.95,1)" font-size="9.8" fill="#000000" text-anchor="middle">d19</text>
<rect x="1058.00" y="854.00" width="54.00" height="2.00" fill="#004000"/>
<rect x="1056.00" y="853.00" width="5.00" height="5.00" fill="#004000"/>
<rect x="1112.00" y="854.00" width="36.00" height="2.00" fill="#800000"/>
<circle cx="1148" cy="855" r="3.5" fill="#dfdfd0" stroke="#800000" stroke-width="1.8"/>
<text transform="translate(1121.80,852.40) scale(0.95,1)" font-size="9.8" fill="#000000" text-anchor="middle">4</text>
<text transform="translate(1084.40,852.40) scale(0.95,1)" font-size="9.8" fill="#000000" text-anchor="middle">gnd</text>
<rect x="1060.00" y="867.00" width="52.00" height="2.00" fill="#004000"/>
<rect x="1058.00" y="866.00" width="5.00" height="5.00" fill="#004000"/>
<rect x="1112.00" y="867.00" width="36.00" height="2.00" fill="#800000"/>
<circle cx="1148" cy="868" r="3.5" fill="#dfdfd0" stroke="#800000" stroke-width="1.8"/>
<text transform="translate(1121.80,864.50) scale(0.95,1)" font-size="9.8" fill="#000000" text-anchor="middle">5</text>
<text transform="translate(1084.40,864.50) scale(0.95,1)" font-size="9.8" fill="#000000" text-anchor="middle">5v</text>
</svg>
<svg id="tb" width="1262" height="74" style="position:absolute;left:0;top:0">
<defs>
<linearGradient id="seg" x1="0" y1="0" x2="0" y2="1"><stop offset="0" stop-color="#edf4fa"/><stop offset="0.55" stop-color="#dbe9f4"/><stop offset="1" stop-color="#b8d4e9"/></linearGradient>
<linearGradient id="band" x1="0" y1="0" x2="0" y2="1"><stop offset="0" stop-color="#c6dff0"/><stop offset="1" stop-color="#b2cfe5"/></linearGradient>
<linearGradient id="pressed" x1="0" y1="0" x2="0" y2="1"><stop offset="0" stop-color="#e6f0f8"/><stop offset="1" stop-color="#cfe2f1"/></linearGradient>
<pattern id="dots" width="16" height="12" patternUnits="userSpaceOnUse"><rect x="1" y="1" width="1" height="1" fill="#d9d2cf"/><rect x="5" y="3" width="1" height="1" fill="#cfdde9"/><rect x="9" y="1" width="1" height="1" fill="#d9d2cf"/><rect x="13" y="5" width="1" height="1" fill="#d9d2cf"/><rect x="3" y="7" width="1" height="1" fill="#d9d2cf"/><rect x="7" y="9" width="1" height="1" fill="#cfdde9"/><rect x="11" y="8" width="1" height="1" fill="#d9d2cf"/><rect x="15" y="11" width="1" height="1" fill="#cfdde9"/><rect x="1" y="11" width="1" height="1" fill="#cfdde9"/></pattern>
<linearGradient id="docg" x1="0" y1="0" x2="1" y2="1"><stop offset="0" stop-color="#ffffff"/><stop offset="0.7" stop-color="#f4f4f0"/><stop offset="1" stop-color="#b0b0a8"/></linearGradient>
<radialGradient id="lens" cx="0.5" cy="0.5" r="0.5"><stop offset="0" stop-color="#bff4f8"/><stop offset="1" stop-color="#8fdde8"/></radialGradient>
</defs>
<rect x="0" y="0" width="1262" height="66" fill="#e3ebf2"/>
<rect x="2" y="35" width="1260" height="29" fill="url(#dots)"/>
<rect x="0" y="66" width="1262" height="1" fill="#7aa0c0"/>
<rect x="0" y="67" width="1262" height="6" fill="url(#band)"/>
<rect x="0" y="73" width="1262" height="1" fill="#66665f"/>
<rect x="0" y="0" width="94" height="31.5" fill="url(#seg)"/>
<rect x="98" y="0" width="138" height="31.5" fill="url(#seg)"/>
<rect x="102" y="3.0" width="2" height="2" fill="#8c9aa6"/><rect x="101" y="2.0" width="2" height="2" fill="#ffffff"/>
<rect x="102" y="6.7" width="2" height="2" fill="#8c9aa6"/><rect x="101" y="5.7" width="2" height="2" fill="#ffffff"/>
<rect x="102" y="10.4" width="2" height="2" fill="#8c9aa6"/><rect x="101" y="9.4" width="2" height="2" fill="#ffffff"/>
<rect x="102" y="14.1" width="2" height="2" fill="#8c9aa6"/><rect x="101" y="13.1" width="2" height="2" fill="#ffffff"/>
<rect x="102" y="17.8" width="2" height="2" fill="#8c9aa6"/><rect x="101" y="16.8" width="2" height="2" fill="#ffffff"/>
<rect x="102" y="21.5" width="2" height="2" fill="#8c9aa6"/><rect x="101" y="20.5" width="2" height="2" fill="#ffffff"/>
<rect x="102" y="25.2" width="2" height="2" fill="#8c9aa6"/><rect x="101" y="24.2" width="2" height="2" fill="#ffffff"/>
<rect x="102" y="28.9" width="2" height="2" fill="#8c9aa6"/><rect x="101" y="27.9" width="2" height="2" fill="#ffffff"/>
<rect x="241" y="0" width="286" height="31.5" fill="url(#seg)"/>
<rect x="245" y="3.0" width="2" height="2" fill="#8c9aa6"/><rect x="244" y="2.0" width="2" height="2" fill="#ffffff"/>
<rect x="245" y="6.7" width="2" height="2" fill="#8c9aa6"/><rect x="244" y="5.7" width="2" height="2" fill="#ffffff"/>
<rect x="245" y="10.4" width="2" height="2" fill="#8c9aa6"/><rect x="244" y="9.4" width="2" height="2" fill="#ffffff"/>
<rect x="245" y="14.1" width="2" height="2" fill="#8c9aa6"/><rect x="244" y="13.1" width="2" height="2" fill="#ffffff"/>
<rect x="245" y="17.8" width="2" height="2" fill="#8c9aa6"/><rect x="244" y="16.8" width="2" height="2" fill="#ffffff"/>
<rect x="245" y="21.5" width="2" height="2" fill="#8c9aa6"/><rect x="244" y="20.5" width="2" height="2" fill="#ffffff"/>
<rect x="245" y="25.2" width="2" height="2" fill="#8c9aa6"/><rect x="244" y="24.2" width="2" height="2" fill="#ffffff"/>
<rect x="245" y="28.9" width="2" height="2" fill="#8c9aa6"/><rect x="244" y="27.9" width="2" height="2" fill="#ffffff"/>
<rect x="531" y="0" width="454" height="31.5" fill="url(#seg)"/>
<rect x="535" y="3.0" width="2" height="2" fill="#8c9aa6"/><rect x="534" y="2.0" width="2" height="2" fill="#ffffff"/>
<rect x="535" y="6.7" width="2" height="2" fill="#8c9aa6"/><rect x="534" y="5.7" width="2" height="2" fill="#ffffff"/>
<rect x="535" y="10.4" width="2" height="2" fill="#8c9aa6"/><rect x="534" y="9.4" width="2" height="2" fill="#ffffff"/>
<rect x="535" y="14.1" width="2" height="2" fill="#8c9aa6"/><rect x="534" y="13.1" width="2" height="2" fill="#ffffff"/>
<rect x="535" y="17.8" width="2" height="2" fill="#8c9aa6"/><rect x="534" y="16.8" width="2" height="2" fill="#ffffff"/>
<rect x="535" y="21.5" width="2" height="2" fill="#8c9aa6"/><rect x="534" y="20.5" width="2" height="2" fill="#ffffff"/>
<rect x="535" y="25.2" width="2" height="2" fill="#8c9aa6"/><rect x="534" y="24.2" width="2" height="2" fill="#ffffff"/>
<rect x="535" y="28.9" width="2" height="2" fill="#8c9aa6"/><rect x="534" y="27.9" width="2" height="2" fill="#ffffff"/>
<rect x="989" y="0" width="262" height="31.5" fill="url(#seg)"/>
<rect x="993" y="3.0" width="2" height="2" fill="#8c9aa6"/><rect x="992" y="2.0" width="2" height="2" fill="#ffffff"/>
<rect x="993" y="6.7" width="2" height="2" fill="#8c9aa6"/><rect x="992" y="5.7" width="2" height="2" fill="#ffffff"/>
<rect x="993" y="10.4" width="2" height="2" fill="#8c9aa6"/><rect x="992" y="9.4" width="2" height="2" fill="#ffffff"/>
<rect x="993" y="14.1" width="2" height="2" fill="#8c9aa6"/><rect x="992" y="13.1" width="2" height="2" fill="#ffffff"/>
<rect x="993" y="17.8" width="2" height="2" fill="#8c9aa6"/><rect x="992" y="16.8" width="2" height="2" fill="#ffffff"/>
<rect x="993" y="21.5" width="2" height="2" fill="#8c9aa6"/><rect x="992" y="20.5" width="2" height="2" fill="#ffffff"/>
<rect x="993" y="25.2" width="2" height="2" fill="#8c9aa6"/><rect x="992" y="24.2" width="2" height="2" fill="#ffffff"/>
<rect x="993" y="28.9" width="2" height="2" fill="#8c9aa6"/><rect x="992" y="27.9" width="2" height="2" fill="#ffffff"/>
<rect x="-4" y="6" width="18" height="15" fill="#a9eef6" stroke="#6b7b80" stroke-width="1.2"/><text x="0" y="16" font-size="7" fill="#1030c0" font-family="Liberation Mono" font-weight="bold">1&lt;&gt;</text>
<path d="M28.5,2.5 H39 L43.5,7 V25.5 H28.5 Z" fill="url(#docg)" stroke="#333" stroke-width="1"/><path d="M39,2.5 V7 H43.5" fill="none" stroke="#333" stroke-width="0.8"/><g fill="#8a8a80"><rect x="30.5" y="5" width="5" height="1"/><rect x="30.5" y="8" width="6" height="1"/><rect x="30.5" y="11" width="11" height="1"/><rect x="30.5" y="14" width="11" height="1"/><rect x="30.5" y="17" width="11" height="1.2"/><rect x="30.5" y="20" width="11" height="1"/><rect x="30.5" y="22.5" width="6" height="1"/></g>
<rect x="54" y="1.5" width="1.2" height="25" fill="#8b9fb0"/><rect x="55.2" y="1.5" width="1" height="25" fill="#ffffff"/>
<circle cx="75" cy="14" r="12" fill="#0a2ff0"/><circle cx="75" cy="15" r="6" fill="#3a6ae8" opacity="0.7"/><text x="75" y="20.5" font-size="17" font-weight="bold" fill="#fff" text-anchor="middle" font-family="Liberation Sans">?</text>
<rect x="109.5" y="2.5" width="122" height="23" fill="#e1e1e1" stroke="#a3a3a3" stroke-width="1"/><text x="113" y="19" font-size="14.3" fill="#1a0a10" font-family="Liberation Sans">Base Design</text><path d="M216.5,11.5 L221,16 L225.5,11.5" fill="none" stroke="#333" stroke-width="1.2"/>
<path d="M261.5,4 H272 L276.5,8.5 V25.5 H261.5 Z" fill="url(#docg)" stroke="#444" stroke-width="1"/><path d="M264,13 Q268,8 273,11 L271,9 M273,11 L270,12.5" fill="none" stroke="#20b040" stroke-width="2.2"/><path d="M273.5,17 Q269,22 264.5,19 L266.5,21 M264.5,19 L267,17.5" fill="none" stroke="#20b040" stroke-width="2.2"/>
<rect x="284.5" y="0.5" width="31" height="28" fill="url(#pressed)" stroke="#8fb2d2" stroke-width="1"/>
<g fill="#555"><circle cx="291" cy="5" r="1.6"/><circle cx="291" cy="14" r="1.6"/><circle cx="291" cy="23" r="1.6"/><circle cx="300" cy="5" r="1.6"/><circle cx="300" cy="14" r="1.6"/><circle cx="300" cy="23" r="1.6"/><circle cx="310" cy="5" r="1.6"/><circle cx="310" cy="14" r="1.6"/><circle cx="310" cy="23" r="1.6"/></g><g fill="none" stroke="#777" stroke-width="0.9" stroke-dasharray="2,2"><rect x="291" y="5" width="19" height="18"/><line x1="300" y1="5" x2="300" y2="23"/><line x1="291" y1="14" x2="310" y2="14"/></g>
<rect x="319.5" y="1.5" width="1.2" height="25" fill="#8b9fb0"/><rect x="320.7" y="1.5" width="1" height="25" fill="#ffffff"/>
<rect x="328" y="13" width="24" height="1.5" fill="#333"/><rect x="339.3" y="2" width="1.5" height="24" fill="#333"/><rect x="335" y="9" width="10.5" height="10" fill="#f5ef20" stroke="#222" stroke-width="1"/><g fill="#c04020"><rect x="335.5" y="13.5" width="10" height="1"/><rect x="339.8" y="9.5" width="1" height="9.5"/></g>
<rect x="359.5" y="1.5" width="1.2" height="25" fill="#8b9fb0"/><rect x="360.7" y="1.5" width="1" height="25" fill="#ffffff"/>
<path d="M380,1.8 L384.9,6.8 H382.5 V11.3 H387.2 V8.9 L392.2,13.8 L387.2,18.7 V16.3 H382.5 V20.8 H384.9 L380,25.8 L375.1,20.8 H377.5 V16.3 H372.8 V18.7 L367.8,13.8 L372.8,8.9 V11.3 H377.5 V6.8 H375.1 Z" fill="#141414"/><rect x="378.3" y="4" width="3.4" height="19.6" fill="#1d5ff2"/><rect x="370" y="12.1" width="20" height="3.4" fill="#1d5ff2"/>
<line x1="417.7" y1="17.4" x2="421.7" y2="21.9" stroke="#a02020" stroke-width="3"/><circle cx="411.7" cy="11.4" r="9" fill="url(#lens)" stroke="#222" stroke-width="1.2"/><rect x="405" y="10" width="13.5" height="3" fill="#111"/><rect x="410.2" y="4.8" width="3" height="13.5" fill="#111"/>
<line x1="450" y1="17.4" x2="454" y2="21.9" stroke="#a02020" stroke-width="3"/><circle cx="444" cy="11.4" r="9" fill="url(#lens)" stroke="#222" stroke-width="1.2"/><rect x="437" y="10" width="14" height="3" fill="#111"/>
<line x1="482" y1="17.4" x2="486" y2="21.9" stroke="#a02020" stroke-width="3"/><circle cx="476" cy="11.4" r="9" fill="url(#lens)" stroke="#222" stroke-width="1.2"/><rect x="471" y="6.5" width="10" height="10" fill="#7a7a7a" stroke="#444" stroke-width="0.8"/>
<rect x="501.5" y="3.5" width="12" height="21" fill="#fff" stroke="#222" stroke-width="1" stroke-dasharray="1.2,1.2"/>
<line x1="515" y1="13" x2="518" y2="17" stroke="#a02020" stroke-width="2.5"/><circle cx="511.5" cy="9.2" r="7" fill="#c8f0f6" fill-opacity="0.8" stroke="#222" stroke-width="1.1"/>
<path d="M547,3.5 L551,7 C554,3 558,2.5 561,2.5 C566,3 569,8 569,12 C569,18 564,23 559.5,25.5 C562,20 563.5,16 562.5,12.5 C561.5,10 559,9.5 556.5,11 L560.5,12.7 L547,17.5 Z" fill="#a6a6a6" stroke="#9a9a90" stroke-width="0.6"/><path d="M561,2.5 C566,3 569,8 569,12 C569,18 564,23 559.5,25.5 C562,20 563.5,16 562.5,12.5 C562,11 561.5,10 560,9.6 Z" fill="#909090"/>
<path d="M 600.8 3.5 L 596.8 7.0 C 593.8 3.0 589.8 2.5 586.8 2.5 C 581.8 3.0 578.8 8.0 578.8 12.0 C 578.8 18.0 583.8 23.0 588.3 25.5 C 585.8 20.0 584.3 16.0 585.3 12.5 C 586.3 10.0 588.8 9.5 591.3 11.0 L 587.3 12.7 L 600.8 17.5 Z" fill="#a6a6a6" stroke="#9a9a90" stroke-width="0.6"/>
<rect x="609.5" y="1.5" width="1.2" height="25" fill="#8b9fb0"/><rect x="610.7" y="1.5" width="1" height="25" fill="#ffffff"/>
<g fill="none" stroke="#a8a8a8" stroke-width="1.8"><line x1="623" y1="3" x2="633" y2="20"/><line x1="636" y1="3" x2="626" y2="20"/><circle cx="625" cy="22.5" r="3"/><circle cx="634" cy="22.5" r="3"/></g>
<path d="M652.5,3.5 H660 L663,6.5 V19.5 H652.5 Z" fill="#fff" stroke="#111" stroke-width="1.2"/><path d="M658.5,8.5 H666 L671,13.5 V24.5 H658.5 Z" fill="#fff" stroke="#111" stroke-width="1.2"/><g fill="#444"><rect x="660.5" y="13" width="8" height="1"/><rect x="660.5" y="16" width="8" height="1"/><rect x="660.5" y="19" width="8" height="1"/><rect x="660.5" y="22" width="8" height="1"/><rect x="654" y="7" width="3" height="1"/><rect x="654" y="10" width="3" height="1"/></g>
<rect x="684.5" y="4.5" width="18" height="21" rx="1.5" fill="#aaaaa4" stroke="#888" stroke-width="1"/><rect x="690" y="2.5" width="7" height="3" fill="#999"/><rect x="688.5" y="7.5" width="13" height="17" fill="#fafafa" stroke="#888" stroke-width="0.8"/><g fill="#777"><rect x="690" y="11" width="10" height="1"/><rect x="690" y="14" width="10" height="1"/><rect x="690" y="17" width="10" height="1"/><rect x="690" y="20" width="10" height="1"/></g>
<rect x="713" y="1.5" width="1.2" height="25" fill="#8b9fb0"/><rect x="714.2" y="1.5" width="1" height="25" fill="#ffffff"/>
<rect x="722.5" y="2.5" width="23" height="9" fill="#a4a4a0" stroke="#8c8c88"/><rect x="722.5" y="17.5" width="23" height="8" fill="#a4a4a0" stroke="#8c8c88"/><path d="M731,6 H737 V13 H740 L734,20 L728,13 H731 Z" fill="#999" stroke="#888" stroke-width="0.6"/>
<rect x="754.5" y="2.5" width="23" height="9" fill="#fafafa" stroke="#8c8c88"/><rect x="754.5" y="17.5" width="23" height="8" fill="#a4a4a0" stroke="#8c8c88"/><rect x="754" y="10.5" width="24" height="1.5" fill="#c8bca8"/><path d="M763,6 H769 V13 H772 L766,20 L760,13 H763 Z" fill="#999" stroke="#888" stroke-width="0.6"/>
<rect x="786.5" y="2.5" width="23" height="23" fill="#a4a4a0" stroke="#8c8c88"/><path d="M792,20 A7,7 0 1 1 804,20" fill="none" stroke="#9a9a96" stroke-width="2.5"/>
<rect x="818.5" y="2.5" width="23" height="23" fill="#a4a4a0" stroke="#8c8c88"/><path d="M822,5 L838,23 M838,5 L822,23" stroke="#9a9a96" stroke-width="2"/>
<rect x="849.5" y="1.5" width="1.2" height="25" fill="#8b9fb0"/><rect x="850.7" y="1.5" width="1" height="25" fill="#ffffff"/>
<line x1="876" y1="18" x2="880" y2="24" stroke="#a02020" stroke-width="3"/><circle cx="870" cy="11.5" r="9.5" fill="url(#lens)" stroke="#222" stroke-width="1.2"/><path d="M865,5 L876,11.5 L865,18 Z" fill="#e0e820" stroke="#555" stroke-width="0.8"/><line x1="878" y1="11.5" x2="882" y2="11.5" stroke="#222"/>
<path d="M897,8 L909,15 L897,23 Z" fill="#e8e4dc" stroke="#bbb" stroke-width="1"/><g fill="#aaa"><rect x="890" y="11" width="7" height="1.5"/><rect x="890" y="19" width="7" height="1.5"/><rect x="909" y="15" width="5" height="1.2"/></g><path d="M906,2 h3 v4 h4 v3 h-4 v4 h-3 v-4 h-4 v-3 h4 Z" fill="#d0ccc0" stroke="#bbb" stroke-width="0.6"/>
<rect x="923.5" y="3.5" width="22" height="22" fill="#a9a9a5" stroke="#7a7a76" stroke-width="1.2" stroke-dasharray="1.5,1"/><path d="M925,24 L924,23 L940,8" stroke="#666" stroke-width="5.2"/><path d="M925,24 L940,8" stroke="#e4e4e4" stroke-width="3.2"/><circle cx="941" cy="6.5" r="4.5" fill="#e4e4e4" stroke="#666" stroke-width="1"/><circle cx="943" cy="4.5" r="2" fill="#a9a9a5"/>
<path d="M956,24 L968,11" stroke="#777" stroke-width="4"/><path d="M963,7 Q970,1 978,7 L975,13 L969,9 L966,14 Z" fill="#8a8a88" stroke="#666" stroke-width="0.8"/>
<rect x="1000.5" y="0.5" width="31" height="27.5" fill="url(#pressed)" stroke="#8fb2d2" stroke-width="1"/><rect x="1003" y="3" width="12" height="6" fill="#20c030" stroke="#333" stroke-width="0.6"/><rect x="1017" y="18" width="12" height="6" fill="#20c030" stroke="#333" stroke-width="0.6"/><path d="M1015,6 H1023 V14 H1013 V20 H1017" fill="none" stroke="#e02020" stroke-width="1.4"/><path d="M1009,9 V15 H1004 V23 H1017" fill="none" stroke="#1030e0" stroke-width="1.4"/>
<rect x="1035.5" y="1.5" width="1.2" height="25" fill="#8b9fb0"/><rect x="1036.7" y="1.5" width="1" height="25" fill="#ffffff"/>
<path d="M1045,22 L1047,10 L1052,5 H1055 V22 Z M1057,22 V5 H1060 L1065,10 L1067,22 Z" fill="#1a4ae0" stroke="#0a2a90" stroke-width="0.8"/><rect x="1054" y="9" width="4" height="6" fill="#1a4ae0"/>
<rect x="1077" y="4" width="12" height="2.5" fill="#777"/><rect x="1077" y="8.5" width="9" height="2.5" fill="#777"/><path d="M1079,23 L1093,9" stroke="#8a8a88" stroke-width="4"/><circle cx="1094" cy="7" r="4" fill="#8a8a88"/><text x="1089" y="24" font-size="12" font-weight="bold" fill="#666" font-family="Liberation Sans">A</text>
<rect x="1107.5" y="1.5" width="1.2" height="25" fill="#8b9fb0"/><rect x="1108.7" y="1.5" width="1" height="25" fill="#ffffff"/>
<path d="M1120.5,2.5 H1131 L1135.5,7 V25.5 H1120.5 Z" fill="url(#docg)" stroke="#444" stroke-width="1"/><path d="M1131,2.5 V7 H1135.5" fill="none" stroke="#444" stroke-width="0.8"/>
<rect x="1126.5" y="10" width="3" height="13" fill="#20b030"/><rect x="1121.5" y="15" width="13" height="3" fill="#20b030"/>
<path d="M1150.5,2.5 H1161 L1165.5,7 V25.5 H1150.5 Z" fill="url(#docg)" stroke="#444" stroke-width="1"/><path d="M1161,2.5 V7 H1165.5" fill="none" stroke="#444" stroke-width="0.8"/>
<g fill="none" stroke="#c8b8a0" stroke-width="1"><rect x="1153" y="9" width="6" height="6"/><rect x="1160" y="17" width="6" height="6"/></g><path d="M1149,3 L1171,25 M1171,3 L1149,25" stroke="#e01010" stroke-width="1.8"/>
<g fill="#e4e0d8" stroke="#b0aca4" stroke-width="1"><rect x="1182.5" y="4.5" width="14" height="5"/><rect x="1182.5" y="17.5" width="8" height="7"/><rect x="1195.5" y="17.5" width="7" height="7"/></g><path d="M1186,10 V17 M1199,10 V17" stroke="#b0aca4"/>
<rect x="1211.5" y="1.5" width="1.2" height="25" fill="#8b9fb0"/><rect x="1212.7" y="1.5" width="1" height="25" fill="#ffffff"/>
<path d="M1224.5,2.5 H1235 L1239.5,7 V25.5 H1224.5 Z" fill="url(#docg)" stroke="#444" stroke-width="1"/><path d="M1235,2.5 V7 H1239.5" fill="none" stroke="#444" stroke-width="0.8"/>
<path d="M1236,7 L1228,17 H1232 L1228,24 L1238,13 H1234 L1238,7 Z" fill="#1a40e0"/>
</svg>
</body></html>
